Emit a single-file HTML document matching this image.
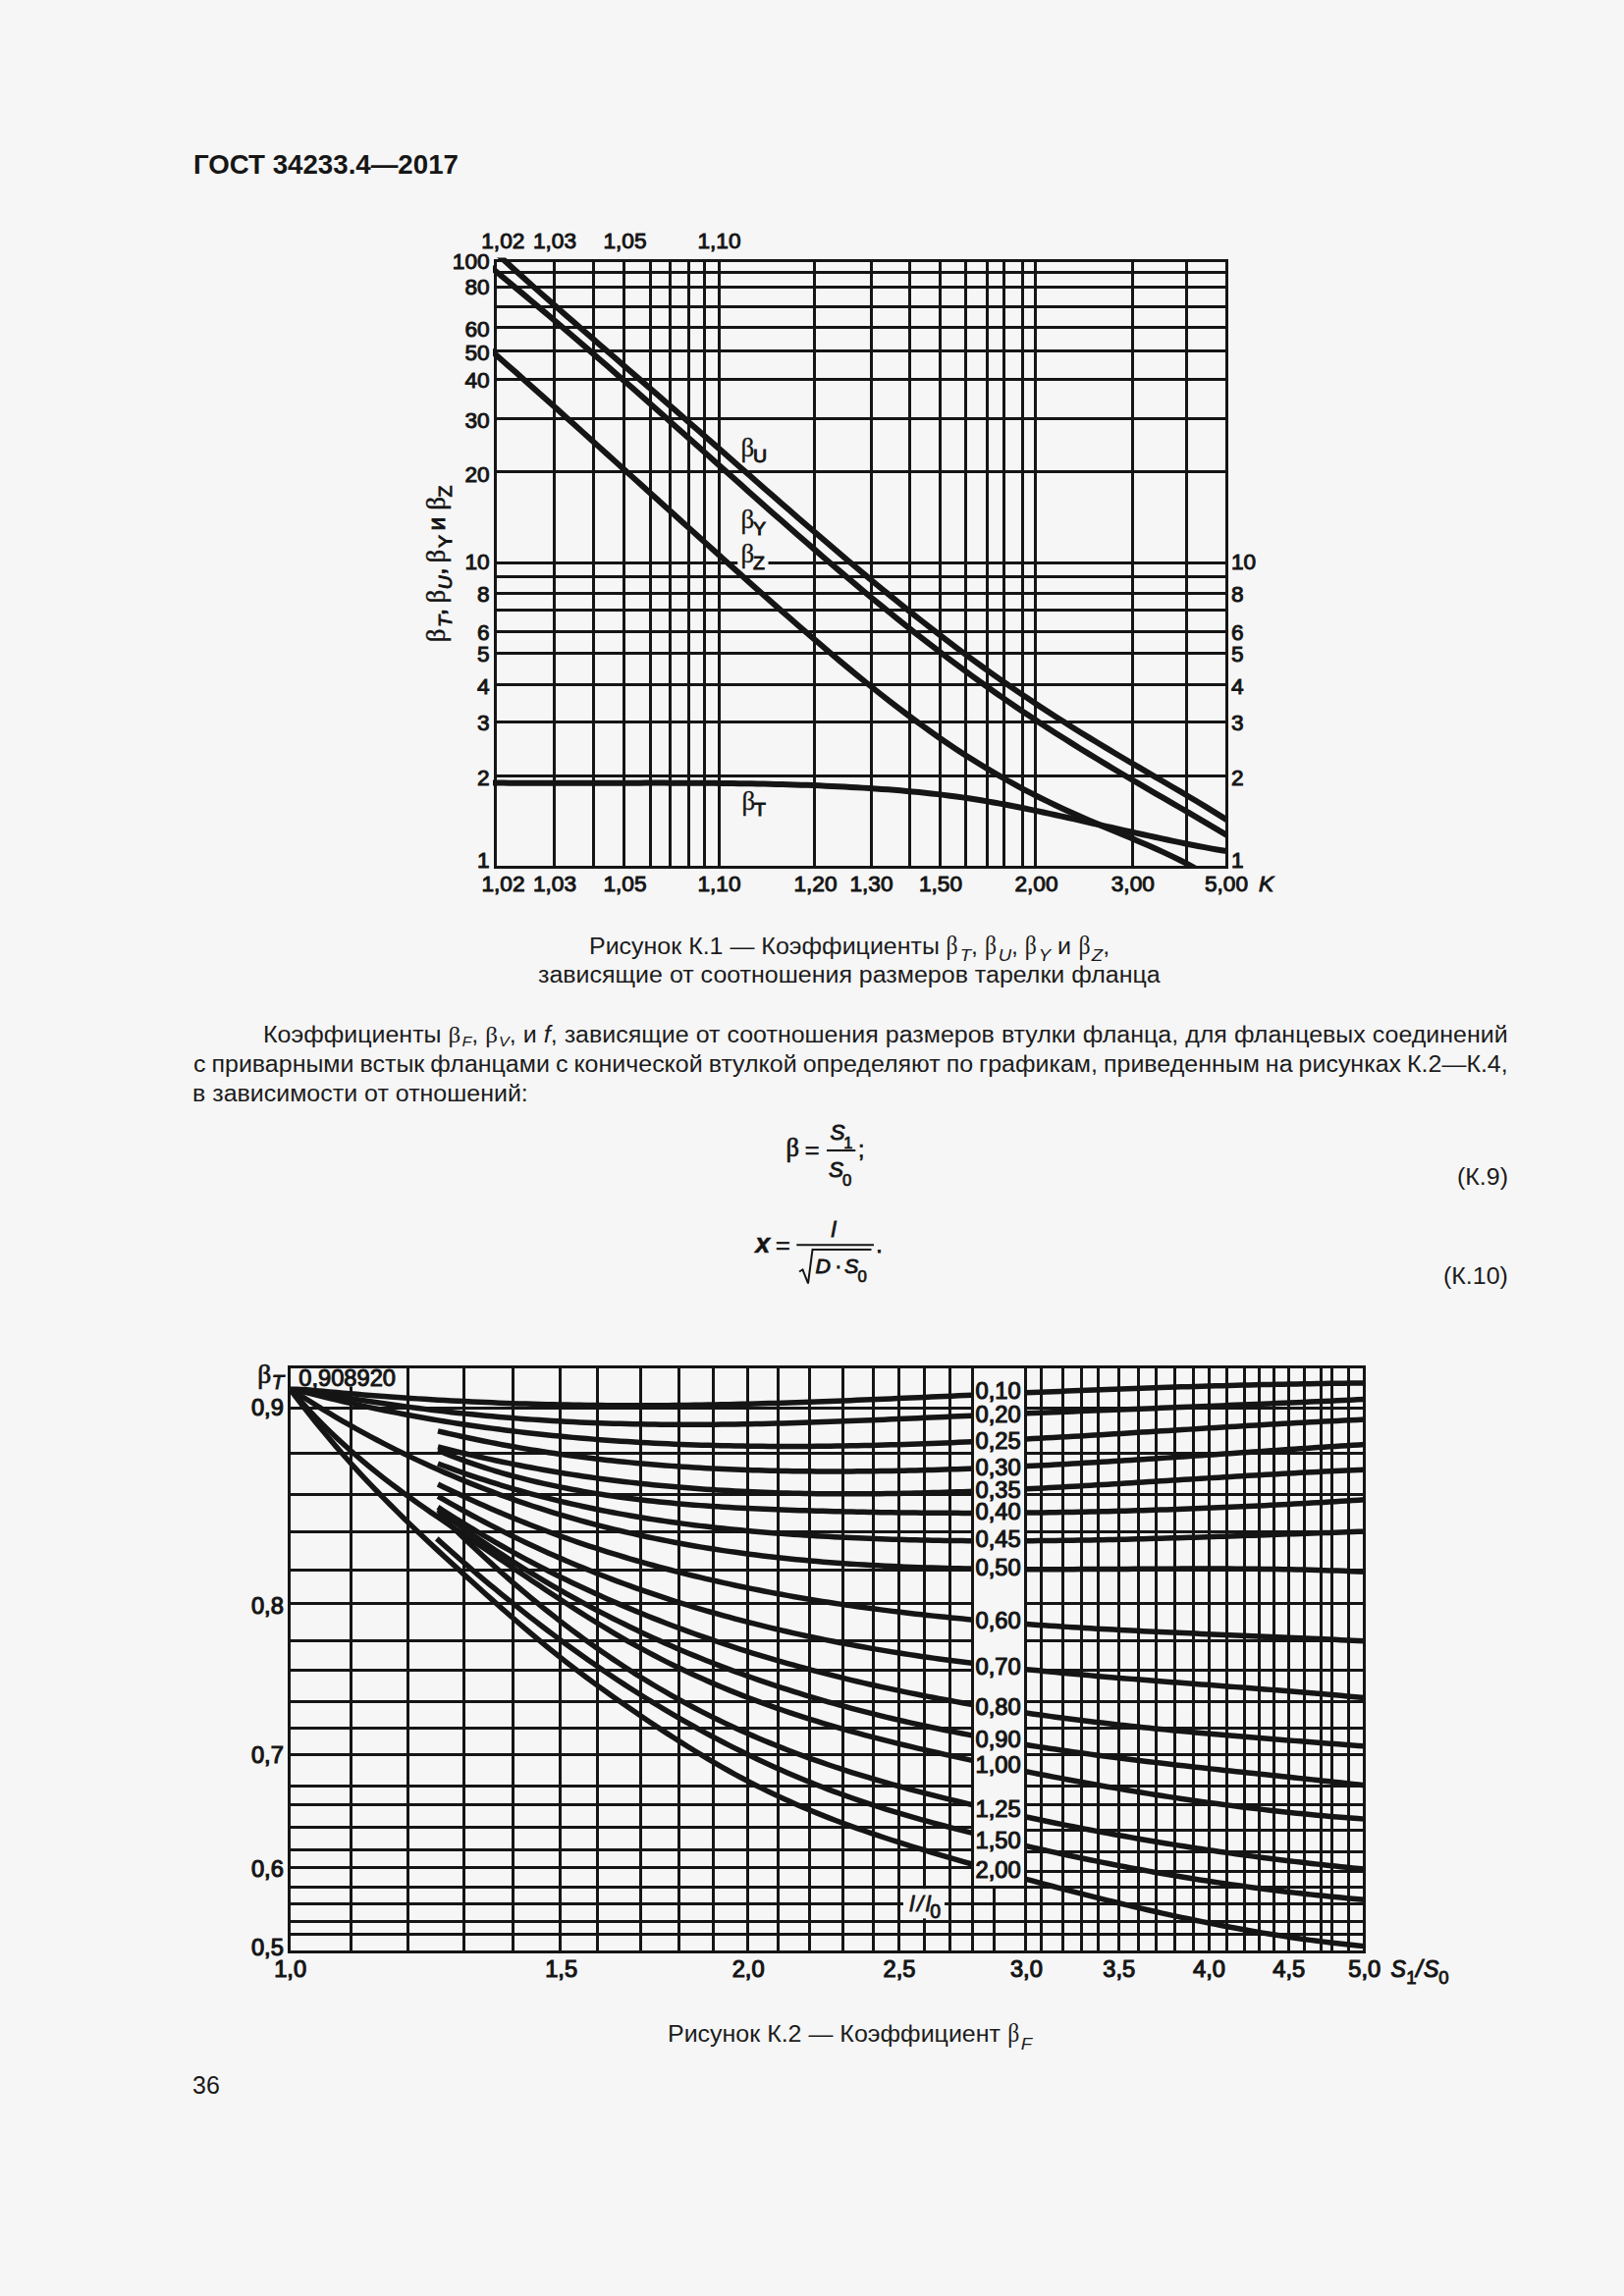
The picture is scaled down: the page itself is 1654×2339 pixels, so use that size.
<!DOCTYPE html>
<html lang="ru"><head><meta charset="utf-8"><title>ГОСТ 34233.4—2017</title>
<style>
html,body{margin:0;padding:0;background:#f6f6f6;}
body{width:1654px;height:2339px;position:relative;overflow:hidden;font-family:"Liberation Sans",sans-serif;color:#1b1b1b;}
.t{position:absolute;white-space:nowrap;line-height:30px;transform-origin:0 0;}
.b{font-family:"Liberation Serif",serif;line-height:0;}
sub{font-size:15px;font-style:italic;vertical-align:baseline;position:relative;top:4.2px;line-height:0;margin-left:1px;}
.b2{font-size:26.3px;display:inline-block;transform:scaleX(0.84);transform-origin:0 50%;}
sub.s2{font-size:17.3px;top:7.6px;margin-left:-0.5px;}
i{font-style:italic}
</style></head><body>
<svg width="1654" height="2339" viewBox="0 0 1654 2339" style="position:absolute;left:0;top:0">
<defs><clipPath id="c1"><rect x="502" y="262.5" width="749" height="622.5"/></clipPath>
<clipPath id="c2"><rect x="293" y="1391" width="1098" height="599"/></clipPath></defs>
<path d="M504.5 264V885M564.5 264V885M604.5 264V885M635.5 264V885M662.5 264V885M682.5 264V885M701.5 264V885M717.5 264V885M732.5 264V885M829.5 264V885M887.5 264V885M926.5 264V885M957.5 264V885M983.5 264V885M1005.5 264V885M1022.5 264V885M1041.5 264V885M1054.5 264V885M1153.5 264V885M1208.5 264V885M1249.5 264V885M503 265.5H1251M503 277.5H1251M503 292.5H1251M503 312.5H1251M503 333.5H1251M503 357.5H1251M503 386.5H1251M503 426.5H1251M503 480.5H1251M503 573.5H1251M503 587.5H1251M503 604.5H1251M503 621.5H1251M503 643.5H1251M503 665.5H1251M503 697.5H1251M503 735.5H1251M503 790.5H1251M503 883.5H1251" stroke="#151515" stroke-width="3.0" fill="none" shape-rendering="crispEdges"/>
<g clip-path="url(#c1)" fill="none" stroke="#151515" stroke-width="6.0" stroke-linecap="butt" stroke-linejoin="round">
<path d="M500 252.64 L508.46 260.49 L516.92 268.25 L525.38 275.94 L533.84 283.56 L542.3 291.12 L550.76 298.63 L559.22 306.11 L567.69 313.54 L576.15 320.95 L584.61 328.34 L593.07 335.7 L601.53 343.06 L609.99 350.41 L618.45 357.75 L626.91 365.09 L635.37 372.43 L643.83 379.78 L652.29 387.13 L660.75 394.49 L669.21 401.85 L677.67 409.22 L686.13 416.6 L694.6 423.99 L703.06 431.39 L711.52 438.8 L719.98 446.21 L728.44 453.63 L736.9 461.05 L745.36 468.48 L753.82 475.9 L762.28 483.32 L770.74 490.74 L779.2 498.15 L787.66 505.55 L796.12 512.93 L804.58 520.31 L813.04 527.66 L821.51 534.99 L829.97 542.3 L838.43 549.57 L846.89 556.82 L855.35 564.03 L863.81 571.2 L872.27 578.33 L880.73 585.42 L889.19 592.45 L897.65 599.44 L906.11 606.37 L914.57 613.24 L923.03 620.06 L931.49 626.8 L939.96 633.49 L948.42 640.1 L956.88 646.65 L965.34 653.12 L973.8 659.52 L982.26 665.84 L990.72 672.08 L999.18 678.25 L1007.64 684.33 L1016.1 690.34 L1024.56 696.27 L1033.02 702.11 L1041.48 707.88 L1049.94 713.57 L1058.4 719.19 L1066.87 724.73 L1075.33 730.19 L1083.79 735.59 L1092.25 740.92 L1100.71 746.18 L1109.17 751.39 L1117.63 756.54 L1126.09 761.64 L1134.55 766.7 L1143.01 771.72 L1151.47 776.71 L1159.93 781.68 L1168.39 786.63 L1176.85 791.57 L1185.31 796.51 L1193.78 801.47 L1202.24 806.45 L1210.7 811.46 L1219.16 816.52 L1227.62 821.64 L1236.08 826.84 L1244.54 832.12 L1253 837.5"/>
<path d="M500 272.29 L508.46 279.28 L516.92 286.3 L525.38 293.35 L533.84 300.42 L542.3 307.53 L550.76 314.66 L559.22 321.83 L567.69 329.03 L576.15 336.25 L584.61 343.51 L593.07 350.8 L601.53 358.12 L609.99 365.47 L618.45 372.84 L626.91 380.24 L635.37 387.67 L643.83 395.12 L652.29 402.59 L660.75 410.08 L669.21 417.59 L677.67 425.11 L686.13 432.65 L694.6 440.19 L703.06 447.75 L711.52 455.31 L719.98 462.88 L728.44 470.44 L736.9 478 L745.36 485.56 L753.82 493.1 L762.28 500.64 L770.74 508.16 L779.2 515.66 L787.66 523.15 L796.12 530.6 L804.58 538.03 L813.04 545.44 L821.51 552.8 L829.97 560.14 L838.43 567.43 L846.89 574.68 L855.35 581.89 L863.81 589.04 L872.27 596.15 L880.73 603.21 L889.19 610.21 L897.65 617.15 L906.11 624.03 L914.57 630.85 L923.03 637.61 L931.49 644.3 L939.96 650.92 L948.42 657.47 L956.88 663.95 L965.34 670.36 L973.8 676.7 L982.26 682.96 L990.72 689.15 L999.18 695.26 L1007.64 701.29 L1016.1 707.26 L1024.56 713.14 L1033.02 718.95 L1041.48 724.69 L1049.94 730.36 L1058.4 735.95 L1066.87 741.48 L1075.33 746.94 L1083.79 752.33 L1092.25 757.66 L1100.71 762.93 L1109.17 768.14 L1117.63 773.3 L1126.09 778.41 L1134.55 783.48 L1143.01 788.5 L1151.47 793.49 L1159.93 798.45 L1168.39 803.39 L1176.85 808.31 L1185.31 813.21 L1193.78 818.12 L1202.24 823.02 L1210.7 827.94 L1219.16 832.88 L1227.62 837.84 L1236.08 842.85 L1244.54 847.9 L1253 853.01"/>
<path d="M500 356.96 L508.46 364.41 L516.92 371.88 L525.38 379.37 L533.84 386.89 L542.3 394.43 L550.76 401.98 L559.22 409.54 L567.69 417.11 L576.15 424.7 L584.61 432.29 L593.07 439.89 L601.53 447.5 L609.99 455.12 L618.45 462.74 L626.91 470.36 L635.37 478 L643.83 485.63 L652.29 493.27 L660.75 500.91 L669.21 508.55 L677.67 516.2 L686.13 523.84 L694.6 531.49 L703.06 539.13 L711.52 546.76 L719.98 554.39 L728.44 562.02 L736.9 569.63 L745.36 577.23 L753.82 584.82 L762.28 592.39 L770.74 599.93 L779.2 607.45 L787.66 614.95 L796.12 622.41 L804.58 629.83 L813.04 637.21 L821.51 644.55 L829.97 651.84 L838.43 659.07 L846.89 666.24 L855.35 673.35 L863.81 680.39 L872.27 687.35 L880.73 694.23 L889.19 701.03 L897.65 707.73 L906.11 714.34 L914.57 720.85 L923.03 727.24 L931.49 733.53 L939.96 739.7 L948.42 745.75 L956.88 751.68 L965.34 757.48 L973.8 763.14 L982.26 768.67 L990.72 774.07 L999.18 779.32 L1007.64 784.44 L1016.1 789.42 L1024.56 794.26 L1033.02 798.96 L1041.48 803.52 L1049.94 807.95 L1058.4 812.25 L1066.87 816.43 L1075.33 820.49 L1083.79 824.45 L1092.25 828.3 L1100.71 832.06 L1109.17 835.75 L1117.63 839.38 L1126.09 842.95 L1134.55 846.5 L1143.01 850.04 L1151.47 853.58 L1159.93 857.16 L1168.39 860.8 L1176.85 864.53 L1185.31 868.37 L1193.78 872.37 L1202.24 876.55 L1210.7 880.95 L1219.16 885.62 L1227.62 890.6 L1236.08 895.94 L1244.54 901.68 L1253 907.89"/>
<path d="M500 797.48 L506.32 797.54 L512.64 797.59 L518.96 797.64 L525.28 797.68 L531.6 797.71 L537.92 797.74 L544.24 797.76 L550.55 797.77 L556.87 797.78 L563.19 797.79 L569.51 797.79 L575.83 797.78 L582.15 797.78 L588.47 797.77 L594.79 797.75 L601.11 797.74 L607.43 797.73 L613.75 797.71 L620.07 797.7 L626.39 797.68 L632.71 797.67 L639.03 797.65 L645.34 797.64 L651.66 797.63 L657.98 797.62 L664.3 797.62 L670.62 797.62 L676.94 797.62 L683.26 797.63 L689.58 797.64 L695.9 797.66 L702.22 797.68 L708.54 797.71 L714.86 797.74 L721.18 797.79 L727.5 797.84 L733.82 797.9 L740.13 797.97 L746.45 798.05 L752.77 798.13 L759.09 798.23 L765.41 798.34 L771.73 798.46 L778.05 798.59 L784.37 798.73 L790.69 798.88 L797.01 799.05 L803.33 799.23 L809.65 799.43 L815.97 799.64 L822.29 799.86 L828.61 800.1 L834.92 800.36 L841.24 800.63 L847.56 800.92 L853.88 801.23 L860.2 801.55 L866.52 801.89 L872.84 802.25 L879.16 802.63 L885.48 803.03 L891.8 803.45 L898.12 803.89 L904.44 804.35 L910.76 804.84 L917.08 805.36 L923.39 805.9 L929.71 806.48 L936.03 807.09 L942.35 807.73 L948.67 808.41 L954.99 809.12 L961.31 809.88 L967.63 810.67 L973.95 811.51 L980.27 812.4 L986.59 813.33 L992.91 814.3 L999.23 815.32 L1005.55 816.39 L1011.87 817.49 L1018.18 818.63 L1024.5 819.81 L1030.82 821.02 L1037.14 822.25 L1043.46 823.52 L1049.78 824.82 L1056.1 826.13 L1062.42 827.47 L1068.74 828.83 L1075.06 830.21 L1081.38 831.6 L1087.7 833 L1094.02 834.42 L1100.34 835.84 L1106.66 837.27 L1112.97 838.7 L1119.29 840.13 L1125.61 841.56 L1131.93 842.99 L1138.25 844.42 L1144.57 845.83 L1150.89 847.25 L1157.21 848.65 L1163.53 850.05 L1169.85 851.43 L1176.17 852.8 L1182.49 854.16 L1188.81 855.51 L1195.13 856.84 L1201.45 858.15 L1207.76 859.44 L1214.08 860.72 L1220.4 861.97 L1226.72 863.17 L1233.04 864.33 L1239.36 865.42 L1245.68 866.44 L1252 867.38"/>
</g>
<text transform="translate(512.3 253.4) scale(1.03 1)" font-family='"Liberation Sans", sans-serif' font-size="22.0" text-anchor="middle" fill="#151515" stroke="#151515" stroke-width="0.95"  >1,02</text>
<text transform="translate(565 253.4) scale(1.03 1)" font-family='"Liberation Sans", sans-serif' font-size="22.0" text-anchor="middle" fill="#151515" stroke="#151515" stroke-width="0.95"  >1,03</text>
<text transform="translate(636.5 253.4) scale(1.03 1)" font-family='"Liberation Sans", sans-serif' font-size="22.0" text-anchor="middle" fill="#151515" stroke="#151515" stroke-width="0.95"  >1,05</text>
<text transform="translate(732.5 253.4) scale(1.03 1)" font-family='"Liberation Sans", sans-serif' font-size="22.0" text-anchor="middle" fill="#151515" stroke="#151515" stroke-width="0.95"  >1,10</text>
<text transform="translate(512.5 908.3) scale(1.03 1)" font-family='"Liberation Sans", sans-serif' font-size="22.0" text-anchor="middle" fill="#151515" stroke="#151515" stroke-width="0.95"  >1,02</text>
<text transform="translate(565 908.3) scale(1.03 1)" font-family='"Liberation Sans", sans-serif' font-size="22.0" text-anchor="middle" fill="#151515" stroke="#151515" stroke-width="0.95"  >1,03</text>
<text transform="translate(636.5 908.3) scale(1.03 1)" font-family='"Liberation Sans", sans-serif' font-size="22.0" text-anchor="middle" fill="#151515" stroke="#151515" stroke-width="0.95"  >1,05</text>
<text transform="translate(732.5 908.3) scale(1.03 1)" font-family='"Liberation Sans", sans-serif' font-size="22.0" text-anchor="middle" fill="#151515" stroke="#151515" stroke-width="0.95"  >1,10</text>
<text transform="translate(830.5 908.3) scale(1.03 1)" font-family='"Liberation Sans", sans-serif' font-size="22.0" text-anchor="middle" fill="#151515" stroke="#151515" stroke-width="0.95"  >1,20</text>
<text transform="translate(887.5 908.3) scale(1.03 1)" font-family='"Liberation Sans", sans-serif' font-size="22.0" text-anchor="middle" fill="#151515" stroke="#151515" stroke-width="0.95"  >1,30</text>
<text transform="translate(958 908.3) scale(1.03 1)" font-family='"Liberation Sans", sans-serif' font-size="22.0" text-anchor="middle" fill="#151515" stroke="#151515" stroke-width="0.95"  >1,50</text>
<text transform="translate(1055.5 908.3) scale(1.03 1)" font-family='"Liberation Sans", sans-serif' font-size="22.0" text-anchor="middle" fill="#151515" stroke="#151515" stroke-width="0.95"  >2,00</text>
<text transform="translate(1153.8 908.3) scale(1.03 1)" font-family='"Liberation Sans", sans-serif' font-size="22.0" text-anchor="middle" fill="#151515" stroke="#151515" stroke-width="0.95"  >3,00</text>
<text transform="translate(1249 908.3) scale(1.03 1)" font-family='"Liberation Sans", sans-serif' font-size="22.0" text-anchor="middle" fill="#151515" stroke="#151515" stroke-width="0.95"  >5,00</text>
<text transform="translate(1282 908.3) scale(1.03 1)" font-family='"Liberation Sans", sans-serif' font-size="22.0" text-anchor="start" fill="#151515" stroke="#151515" stroke-width="0.95" font-style="italic" >K</text>
<text transform="translate(498.6 274.35) scale(1.03 1)" font-family='"Liberation Sans", sans-serif' font-size="22.0" text-anchor="end" fill="#151515" stroke="#151515" stroke-width="0.95"  >100</text>
<text transform="translate(498.6 300.2) scale(1.03 1)" font-family='"Liberation Sans", sans-serif' font-size="22.0" text-anchor="end" fill="#151515" stroke="#151515" stroke-width="0.95"  >80</text>
<text transform="translate(498.6 342.6) scale(1.03 1)" font-family='"Liberation Sans", sans-serif' font-size="22.0" text-anchor="end" fill="#151515" stroke="#151515" stroke-width="0.95"  >60</text>
<text transform="translate(498.6 367.2) scale(1.03 1)" font-family='"Liberation Sans", sans-serif' font-size="22.0" text-anchor="end" fill="#151515" stroke="#151515" stroke-width="0.95"  >50</text>
<text transform="translate(498.6 395.2) scale(1.03 1)" font-family='"Liberation Sans", sans-serif' font-size="22.0" text-anchor="end" fill="#151515" stroke="#151515" stroke-width="0.95"  >40</text>
<text transform="translate(498.6 435.6) scale(1.03 1)" font-family='"Liberation Sans", sans-serif' font-size="22.0" text-anchor="end" fill="#151515" stroke="#151515" stroke-width="0.95"  >30</text>
<text transform="translate(498.6 490.6) scale(1.03 1)" font-family='"Liberation Sans", sans-serif' font-size="22.0" text-anchor="end" fill="#151515" stroke="#151515" stroke-width="0.95"  >20</text>
<text transform="translate(498.6 580.2) scale(1.03 1)" font-family='"Liberation Sans", sans-serif' font-size="22.0" text-anchor="end" fill="#151515" stroke="#151515" stroke-width="0.95"  >10</text>
<text transform="translate(498.6 612.7) scale(1.03 1)" font-family='"Liberation Sans", sans-serif' font-size="22.0" text-anchor="end" fill="#151515" stroke="#151515" stroke-width="0.95"  >8</text>
<text transform="translate(498.6 652.35) scale(1.03 1)" font-family='"Liberation Sans", sans-serif' font-size="22.0" text-anchor="end" fill="#151515" stroke="#151515" stroke-width="0.95"  >6</text>
<text transform="translate(498.6 674.35) scale(1.03 1)" font-family='"Liberation Sans", sans-serif' font-size="22.0" text-anchor="end" fill="#151515" stroke="#151515" stroke-width="0.95"  >5</text>
<text transform="translate(498.6 707.35) scale(1.03 1)" font-family='"Liberation Sans", sans-serif' font-size="22.0" text-anchor="end" fill="#151515" stroke="#151515" stroke-width="0.95"  >4</text>
<text transform="translate(498.6 743.5) scale(1.03 1)" font-family='"Liberation Sans", sans-serif' font-size="22.0" text-anchor="end" fill="#151515" stroke="#151515" stroke-width="0.95"  >3</text>
<text transform="translate(498.6 799.6) scale(1.03 1)" font-family='"Liberation Sans", sans-serif' font-size="22.0" text-anchor="end" fill="#151515" stroke="#151515" stroke-width="0.95"  >2</text>
<text transform="translate(498.6 883.9) scale(1.03 1)" font-family='"Liberation Sans", sans-serif' font-size="22.0" text-anchor="end" fill="#151515" stroke="#151515" stroke-width="0.95"  >1</text>
<text transform="translate(1254 580.2) scale(1.03 1)" font-family='"Liberation Sans", sans-serif' font-size="22.0" text-anchor="start" fill="#151515" stroke="#151515" stroke-width="0.95"  >10</text>
<text transform="translate(1254 612.7) scale(1.03 1)" font-family='"Liberation Sans", sans-serif' font-size="22.0" text-anchor="start" fill="#151515" stroke="#151515" stroke-width="0.95"  >8</text>
<text transform="translate(1254 652.35) scale(1.03 1)" font-family='"Liberation Sans", sans-serif' font-size="22.0" text-anchor="start" fill="#151515" stroke="#151515" stroke-width="0.95"  >6</text>
<text transform="translate(1254 674.35) scale(1.03 1)" font-family='"Liberation Sans", sans-serif' font-size="22.0" text-anchor="start" fill="#151515" stroke="#151515" stroke-width="0.95"  >5</text>
<text transform="translate(1254 707.35) scale(1.03 1)" font-family='"Liberation Sans", sans-serif' font-size="22.0" text-anchor="start" fill="#151515" stroke="#151515" stroke-width="0.95"  >4</text>
<text transform="translate(1254 743.5) scale(1.03 1)" font-family='"Liberation Sans", sans-serif' font-size="22.0" text-anchor="start" fill="#151515" stroke="#151515" stroke-width="0.95"  >3</text>
<text transform="translate(1254 799.6) scale(1.03 1)" font-family='"Liberation Sans", sans-serif' font-size="22.0" text-anchor="start" fill="#151515" stroke="#151515" stroke-width="0.95"  >2</text>
<text transform="translate(1254 883.9) scale(1.03 1)" font-family='"Liberation Sans", sans-serif' font-size="22.0" text-anchor="start" fill="#151515" stroke="#151515" stroke-width="0.95"  >1</text>
<text x="754.5" y="464.5" font-family='"Liberation Serif", serif' font-size="27" text-anchor="start" fill="#151515" stroke="#151515" stroke-width="0.3"  >β</text>
<text transform="translate(767 471.2) scale(1.03 1)" font-family='"Liberation Sans", sans-serif' font-size="19" text-anchor="start" fill="#151515" stroke="#151515" stroke-width="0.95"  >U</text>
<text x="754.5" y="538" font-family='"Liberation Serif", serif' font-size="27" text-anchor="start" fill="#151515" stroke="#151515" stroke-width="0.3"  >β</text>
<text transform="translate(767 544.7) scale(1.03 1)" font-family='"Liberation Sans", sans-serif' font-size="19" text-anchor="start" fill="#151515" stroke="#151515" stroke-width="0.95"  >Y</text>
<rect x="751.25" y="570" width="31.25" height="7" fill="#f6f6f6"/>
<text x="754.5" y="573" font-family='"Liberation Serif", serif' font-size="27" text-anchor="start" fill="#151515" stroke="#151515" stroke-width="0.3"  >β</text>
<text transform="translate(767 579.7) scale(1.03 1)" font-family='"Liberation Sans", sans-serif' font-size="19" text-anchor="start" fill="#151515" stroke="#151515" stroke-width="0.95"  >Z</text>
<text x="755.5" y="824.5" font-family='"Liberation Serif", serif' font-size="27" text-anchor="start" fill="#151515" stroke="#151515" stroke-width="0.3"  >β</text>
<text transform="translate(768 831.2) scale(1.03 1)" font-family='"Liberation Sans", sans-serif' font-size="19" text-anchor="start" fill="#151515" stroke="#151515" stroke-width="0.95"  >T</text>
<g transform="translate(452.5 653.4) rotate(-90)">
<text x="-0.8" y="0" font-family='"Liberation Serif", serif' font-size="27" fill="#151515" stroke="#151515" stroke-width="0.5">β</text>
<text transform="translate(14.5 7.5) scale(1.03 1)" font-family='"Liberation Sans", sans-serif' font-size="19" font-style="italic" fill="#151515" stroke="#151515" stroke-width="0.95">T</text>
<text transform="translate(26.5 0) scale(1.03 1)" font-family='"Liberation Sans", sans-serif' font-size="24" fill="#151515" stroke="#151515" stroke-width="0.95">,</text>
<text x="38.8" y="0" font-family='"Liberation Serif", serif' font-size="27" fill="#151515" stroke="#151515" stroke-width="0.5">β</text>
<text transform="translate(53 7.5) scale(1.03 1)" font-family='"Liberation Sans", sans-serif' font-size="19" font-style="italic" fill="#151515" stroke="#151515" stroke-width="0.95">U</text>
<text transform="translate(68 0) scale(1.03 1)" font-family='"Liberation Sans", sans-serif' font-size="24" fill="#151515" stroke="#151515" stroke-width="0.95">,</text>
<text x="79.9" y="0" font-family='"Liberation Serif", serif' font-size="27" fill="#151515" stroke="#151515" stroke-width="0.5">β</text>
<text transform="translate(95.5 7.5) scale(1.03 1)" font-family='"Liberation Sans", sans-serif' font-size="19" fill="#151515" stroke="#151515" stroke-width="0.95">Y</text>
<text transform="translate(113 0) scale(1.03 1)" font-family='"Liberation Sans", sans-serif' font-size="24" fill="#151515" stroke="#151515" stroke-width="0.95">и</text>
<text x="133.7" y="0" font-family='"Liberation Serif", serif' font-size="27" fill="#151515" stroke="#151515" stroke-width="0.5">β</text>
<text transform="translate(147 7.5) scale(1.03 1)" font-family='"Liberation Sans", sans-serif' font-size="19" fill="#151515" stroke="#151515" stroke-width="0.95">Z</text>
</g>
<path d="M294.5 1391V1990M357.5 1391V1990M415.5 1391V1990M472.5 1391V1990M522.5 1391V1990M570.5 1391V1990M608.5 1391V1990M652.5 1391V1990M691.5 1391V1990M726.5 1391V1990M761.5 1391V1990M792.5 1391V1990M824.5 1391V1990M858.5 1391V1990M889.5 1391V1990M915.5 1391V1990M941.5 1391V1990M967.5 1391V1990M990.5 1391V1990M1012.5 1391V1990M1044.5 1391V1990M1060.5 1391V1990M1082.5 1391V1990M1101.5 1391V1990M1118.5 1391V1990M1139.5 1391V1990M1159.5 1391V1990M1177.5 1391V1990M1196.5 1391V1990M1215.5 1391V1990M1231.5 1391V1990M1249.5 1391V1990M1267.5 1391V1990M1282.5 1391V1990M1297.5 1391V1990M1312.5 1391V1990M1328.5 1391V1990M1345.5 1391V1990M1356.5 1391V1990M1373.5 1391V1990M1389.5 1391V1990M293 1392.5H1391M293 1434.5H1391M293 1480.5H1391M293 1522.5H1391M293 1560.5H1391M293 1599.5H1391M293 1633.5H1391M293 1671.5H1391M293 1701.5H1391M293 1733.5H1391M293 1760.5H1391M293 1787.5H1391M293 1819.5H1391M293 1838.5H1391M293 1861.5H990.5M1044.5 1864.5H1391M293 1884.5H990.5M1044.5 1886.5H1391M293 1902.5H990.5M1044.5 1906.5H1391M293 1922.5H1391M293 1939.5H1391M293 1957.5H1391M293 1970.5H1391M293 1988.5H1391" stroke="#151515" stroke-width="3.0" fill="none" shape-rendering="crispEdges"/>
<g clip-path="url(#c2)" fill="none" stroke="#151515" stroke-width="5.5" stroke-linejoin="round">
<path d="M294.5 1414 L301.39 1414.69 L308.27 1415.38 L315.16 1416.05 L322.05 1416.71 L328.93 1417.35 L335.82 1417.98 L342.71 1418.59 L349.59 1419.19 L356.48 1419.78 L363.37 1420.36 L370.25 1420.91 L377.14 1421.46 L384.03 1421.99 L390.92 1422.51 L397.8 1423.01 L404.69 1423.5 L411.58 1423.98 L418.46 1424.44 L425.35 1424.88 L432.24 1425.32 L439.12 1425.73 L446.01 1426.14 L452.9 1426.53 L459.78 1426.91 L466.67 1427.27 L473.56 1427.61 L480.44 1427.95 L487.33 1428.27 L494.22 1428.57 L501.1 1428.86 L507.99 1429.14 L514.88 1429.4 L521.76 1429.65 L528.65 1429.88 L535.54 1430.1 L542.42 1430.3 L549.31 1430.49 L556.2 1430.67 L563.08 1430.83 L569.97 1430.98 L576.86 1431.12 L583.75 1431.24 L590.63 1431.35 L597.52 1431.45 L604.41 1431.53 L611.29 1431.6 L618.18 1431.66 L625.07 1431.7 L631.95 1431.74 L638.84 1431.76 L645.73 1431.76 L652.61 1431.76 L659.5 1431.74 L666.39 1431.72 L673.27 1431.68 L680.16 1431.63 L687.05 1431.57 L693.93 1431.49 L700.82 1431.41 L707.71 1431.31 L714.59 1431.21 L721.48 1431.09 L728.37 1430.96 L735.25 1430.83 L742.14 1430.68 L749.03 1430.52 L755.92 1430.36 L762.8 1430.18 L769.69 1429.99 L776.58 1429.8 L783.46 1429.6 L790.35 1429.39 L797.24 1429.17 L804.12 1428.95 L811.01 1428.72 L817.9 1428.48 L824.78 1428.23 L831.67 1427.98 L838.56 1427.72 L845.44 1427.46 L852.33 1427.19 L859.22 1426.92 L866.1 1426.65 L872.99 1426.36 L879.88 1426.08 L886.76 1425.79 L893.65 1425.5 L900.54 1425.2 L907.42 1424.91 L914.31 1424.61 L921.2 1424.3 L928.08 1424 L934.97 1423.69 L941.86 1423.39 L948.75 1423.08 L955.63 1422.77 L962.52 1422.46 L969.41 1422.15 L976.29 1421.85 L983.18 1421.54 L990.07 1421.23 L996.95 1420.93 L1003.84 1420.62 L1010.73 1420.32 L1017.61 1420.02 L1024.5 1419.72 L1031.39 1419.42 L1038.27 1419.13 L1045.16 1418.84 L1052.05 1418.54 L1058.93 1418.26 L1065.82 1417.97 L1072.71 1417.68 L1079.59 1417.4 L1086.48 1417.12 L1093.37 1416.85 L1100.25 1416.57 L1107.14 1416.3 L1114.03 1416.03 L1120.92 1415.77 L1127.8 1415.51 L1134.69 1415.25 L1141.58 1414.99 L1148.46 1414.74 L1155.35 1414.49 L1162.24 1414.25 L1169.12 1414.01 L1176.01 1413.77 L1182.9 1413.54 L1189.78 1413.31 L1196.67 1413.09 L1203.56 1412.87 L1210.44 1412.65 L1217.33 1412.44 L1224.22 1412.23 L1231.1 1412.03 L1237.99 1411.83 L1244.88 1411.64 L1251.76 1411.46 L1258.65 1411.27 L1265.54 1411.1 L1272.42 1410.92 L1279.31 1410.76 L1286.2 1410.6 L1293.08 1410.44 L1299.97 1410.29 L1306.86 1410.15 L1313.75 1410.01 L1320.63 1409.88 L1327.52 1409.75 L1334.41 1409.63 L1341.29 1409.52 L1348.18 1409.41 L1355.07 1409.31 L1361.95 1409.21 L1368.84 1409.13 L1375.73 1409.04 L1382.61 1408.97 L1389.5 1408.9"/>
<path d="M294.5 1414 L301.39 1415.25 L308.27 1416.49 L315.16 1417.71 L322.05 1418.91 L328.93 1420.09 L335.82 1421.25 L342.71 1422.39 L349.59 1423.51 L356.48 1424.62 L363.37 1425.7 L370.25 1426.77 L377.14 1427.81 L384.03 1428.83 L390.92 1429.83 L397.8 1430.81 L404.69 1431.77 L411.58 1432.71 L418.46 1433.62 L425.35 1434.52 L432.24 1435.39 L439.12 1436.24 L446.01 1437.07 L452.9 1437.87 L459.78 1438.65 L466.67 1439.41 L473.56 1440.14 L480.44 1440.85 L487.33 1441.54 L494.22 1442.2 L501.1 1442.83 L507.99 1443.45 L514.88 1444.03 L521.76 1444.6 L528.65 1445.13 L535.54 1445.65 L542.42 1446.13 L549.31 1446.6 L556.2 1447.04 L563.08 1447.45 L569.97 1447.84 L576.86 1448.21 L583.75 1448.56 L590.63 1448.88 L597.52 1449.18 L604.41 1449.46 L611.29 1449.72 L618.18 1449.96 L625.07 1450.18 L631.95 1450.37 L638.84 1450.55 L645.73 1450.71 L652.61 1450.85 L659.5 1450.96 L666.39 1451.06 L673.27 1451.15 L680.16 1451.21 L687.05 1451.26 L693.93 1451.29 L700.82 1451.3 L707.71 1451.29 L714.59 1451.27 L721.48 1451.24 L728.37 1451.18 L735.25 1451.12 L742.14 1451.03 L749.03 1450.94 L755.92 1450.83 L762.8 1450.7 L769.69 1450.57 L776.58 1450.42 L783.46 1450.26 L790.35 1450.08 L797.24 1449.9 L804.12 1449.71 L811.01 1449.5 L817.9 1449.29 L824.78 1449.06 L831.67 1448.83 L838.56 1448.59 L845.44 1448.35 L852.33 1448.09 L859.22 1447.83 L866.1 1447.56 L872.99 1447.29 L879.88 1447.01 L886.76 1446.72 L893.65 1446.43 L900.54 1446.14 L907.42 1445.85 L914.31 1445.55 L921.2 1445.24 L928.08 1444.94 L934.97 1444.63 L941.86 1444.33 L948.75 1444.02 L955.63 1443.71 L962.52 1443.4 L969.41 1443.1 L976.29 1442.79 L983.18 1442.49 L990.07 1442.18 L996.95 1441.88 L1003.84 1441.59 L1010.73 1441.29 L1017.61 1441 L1024.5 1440.71 L1031.39 1440.42 L1038.27 1440.13 L1045.16 1439.85 L1052.05 1439.56 L1058.93 1439.28 L1065.82 1439 L1072.71 1438.72 L1079.59 1438.44 L1086.48 1438.17 L1093.37 1437.89 L1100.25 1437.62 L1107.14 1437.34 L1114.03 1437.07 L1120.92 1436.8 L1127.8 1436.53 L1134.69 1436.26 L1141.58 1435.99 L1148.46 1435.71 L1155.35 1435.44 L1162.24 1435.17 L1169.12 1434.9 L1176.01 1434.63 L1182.9 1434.36 L1189.78 1434.09 L1196.67 1433.82 L1203.56 1433.54 L1210.44 1433.27 L1217.33 1432.99 L1224.22 1432.72 L1231.1 1432.44 L1237.99 1432.16 L1244.88 1431.88 L1251.76 1431.6 L1258.65 1431.32 L1265.54 1431.04 L1272.42 1430.75 L1279.31 1430.46 L1286.2 1430.17 L1293.08 1429.88 L1299.97 1429.59 L1306.86 1429.29 L1313.75 1428.99 L1320.63 1428.69 L1327.52 1428.39 L1334.41 1428.08 L1341.29 1427.77 L1348.18 1427.46 L1355.07 1427.15 L1361.95 1426.83 L1368.84 1426.51 L1375.73 1426.18 L1382.61 1425.85 L1389.5 1425.52"/>
<path d="M294.5 1414 L301.39 1415.84 L308.27 1417.65 L315.16 1419.42 L322.05 1421.15 L328.93 1422.86 L335.82 1424.53 L342.71 1426.16 L349.59 1427.77 L356.48 1429.33 L363.37 1430.87 L370.25 1432.38 L377.14 1433.85 L384.03 1435.29 L390.92 1436.7 L397.8 1438.07 L404.69 1439.42 L411.58 1440.73 L418.46 1442.02 L425.35 1443.27 L432.24 1444.5 L439.12 1445.69 L446.01 1446.86 L452.9 1447.99 L459.78 1449.1 L466.67 1450.18 L473.56 1451.23 L480.44 1452.25 L487.33 1453.24 L494.22 1454.21 L501.1 1455.14 L507.99 1456.06 L514.88 1456.94 L521.76 1457.8 L528.65 1458.63 L535.54 1459.44 L542.42 1460.22 L549.31 1460.97 L556.2 1461.7 L563.08 1462.41 L569.97 1463.09 L576.86 1463.74 L583.75 1464.37 L590.63 1464.98 L597.52 1465.57 L604.41 1466.13 L611.29 1466.66 L618.18 1467.18 L625.07 1467.67 L631.95 1468.14 L638.84 1468.59 L645.73 1469.02 L652.61 1469.42 L659.5 1469.81 L666.39 1470.17 L673.27 1470.51 L680.16 1470.84 L687.05 1471.14 L693.93 1471.42 L700.82 1471.69 L707.71 1471.93 L714.59 1472.16 L721.48 1472.36 L728.37 1472.55 L735.25 1472.72 L742.14 1472.87 L749.03 1473.01 L755.92 1473.12 L762.8 1473.22 L769.69 1473.31 L776.58 1473.37 L783.46 1473.43 L790.35 1473.46 L797.24 1473.48 L804.12 1473.48 L811.01 1473.47 L817.9 1473.44 L824.78 1473.4 L831.67 1473.35 L838.56 1473.28 L845.44 1473.19 L852.33 1473.1 L859.22 1472.99 L866.1 1472.86 L872.99 1472.73 L879.88 1472.58 L886.76 1472.42 L893.65 1472.25 L900.54 1472.06 L907.42 1471.87 L914.31 1471.66 L921.2 1471.44 L928.08 1471.22 L934.97 1470.98 L941.86 1470.73 L948.75 1470.47 L955.63 1470.2 L962.52 1469.93 L969.41 1469.64 L976.29 1469.35 L983.18 1469.04 L990.07 1468.73 L996.95 1468.41 L1003.84 1468.09 L1010.73 1467.75 L1017.61 1467.41 L1024.5 1467.07 L1031.39 1466.71 L1038.27 1466.35 L1045.16 1465.99 L1052.05 1465.61 L1058.93 1465.24 L1065.82 1464.86 L1072.71 1464.47 L1079.59 1464.08 L1086.48 1463.68 L1093.37 1463.28 L1100.25 1462.88 L1107.14 1462.47 L1114.03 1462.06 L1120.92 1461.64 L1127.8 1461.23 L1134.69 1460.81 L1141.58 1460.39 L1148.46 1459.96 L1155.35 1459.54 L1162.24 1459.11 L1169.12 1458.69 L1176.01 1458.26 L1182.9 1457.83 L1189.78 1457.4 L1196.67 1456.97 L1203.56 1456.54 L1210.44 1456.12 L1217.33 1455.69 L1224.22 1455.26 L1231.1 1454.84 L1237.99 1454.42 L1244.88 1453.99 L1251.76 1453.58 L1258.65 1453.16 L1265.54 1452.74 L1272.42 1452.33 L1279.31 1451.93 L1286.2 1451.52 L1293.08 1451.12 L1299.97 1450.73 L1306.86 1450.33 L1313.75 1449.95 L1320.63 1449.56 L1327.52 1449.19 L1334.41 1448.81 L1341.29 1448.45 L1348.18 1448.09 L1355.07 1447.73 L1361.95 1447.39 L1368.84 1447.04 L1375.73 1446.71 L1382.61 1446.38 L1389.5 1446.07"/>
<path d="M446 1457.81 L451.93 1459.21 L457.87 1460.59 L463.8 1461.94 L469.74 1463.26 L475.67 1464.54 L481.6 1465.8 L487.54 1467.04 L493.47 1468.24 L499.41 1469.41 L505.34 1470.56 L511.27 1471.68 L517.21 1472.77 L523.14 1473.83 L529.08 1474.87 L535.01 1475.88 L540.94 1476.87 L546.88 1477.83 L552.81 1478.76 L558.75 1479.67 L564.68 1480.55 L570.61 1481.41 L576.55 1482.24 L582.48 1483.05 L588.42 1483.84 L594.35 1484.6 L600.28 1485.34 L606.22 1486.05 L612.15 1486.75 L618.08 1487.42 L624.02 1488.06 L629.95 1488.69 L635.89 1489.29 L641.82 1489.88 L647.75 1490.44 L653.69 1490.98 L659.62 1491.5 L665.56 1492 L671.49 1492.48 L677.42 1492.94 L683.36 1493.38 L689.29 1493.8 L695.23 1494.2 L701.16 1494.58 L707.09 1494.95 L713.03 1495.3 L718.96 1495.63 L724.9 1495.94 L730.83 1496.23 L736.76 1496.51 L742.7 1496.77 L748.63 1497.02 L754.57 1497.25 L760.5 1497.46 L766.43 1497.66 L772.37 1497.84 L778.3 1498.01 L784.24 1498.16 L790.17 1498.3 L796.1 1498.42 L802.04 1498.53 L807.97 1498.63 L813.91 1498.71 L819.84 1498.78 L825.77 1498.84 L831.71 1498.88 L837.64 1498.91 L843.58 1498.93 L849.51 1498.94 L855.44 1498.94 L861.38 1498.92 L867.31 1498.9 L873.25 1498.86 L879.18 1498.81 L885.11 1498.75 L891.05 1498.68 L896.98 1498.6 L902.92 1498.51 L908.85 1498.4 L914.78 1498.29 L920.72 1498.17 L926.65 1498.04 L932.58 1497.9 L938.52 1497.74 L944.45 1497.58 L950.39 1497.42 L956.32 1497.24 L962.25 1497.05 L968.19 1496.85 L974.12 1496.65 L980.06 1496.44 L985.99 1496.22 L991.92 1495.99 L997.86 1495.75 L1003.79 1495.51 L1009.73 1495.26 L1015.66 1495 L1021.59 1494.74 L1027.53 1494.46 L1033.46 1494.18 L1039.4 1493.9 L1045.33 1493.61 L1051.26 1493.31 L1057.2 1493 L1063.13 1492.69 L1069.07 1492.38 L1075 1492.06 L1080.93 1491.73 L1086.87 1491.4 L1092.8 1491.06 L1098.74 1490.72 L1104.67 1490.37 L1110.6 1490.02 L1116.54 1489.67 L1122.47 1489.31 L1128.41 1488.94 L1134.34 1488.58 L1140.27 1488.2 L1146.21 1487.83 L1152.14 1487.45 L1158.08 1487.07 L1164.01 1486.69 L1169.94 1486.3 L1175.88 1485.91 L1181.81 1485.52 L1187.75 1485.12 L1193.68 1484.73 L1199.61 1484.33 L1205.55 1483.93 L1211.48 1483.52 L1217.42 1483.12 L1223.35 1482.72 L1229.28 1482.31 L1235.22 1481.9 L1241.15 1481.49 L1247.08 1481.09 L1253.02 1480.68 L1258.95 1480.27 L1264.89 1479.86 L1270.82 1479.45 L1276.75 1479.04 L1282.69 1478.63 L1288.62 1478.22 L1294.56 1477.81 L1300.49 1477.41 L1306.42 1477 L1312.36 1476.6 L1318.29 1476.19 L1324.23 1475.79 L1330.16 1475.39 L1336.09 1474.99 L1342.03 1474.6 L1347.96 1474.2 L1353.9 1473.81 L1359.83 1473.43 L1365.76 1473.04 L1371.7 1472.66 L1377.63 1472.28 L1383.57 1471.9 L1389.5 1471.53"/>
<path d="M446 1473.81 L451.93 1475.35 L457.87 1476.87 L463.8 1478.36 L469.74 1479.82 L475.67 1481.24 L481.6 1482.64 L487.54 1484.01 L493.47 1485.35 L499.41 1486.66 L505.34 1487.94 L511.27 1489.19 L517.21 1490.42 L523.14 1491.62 L529.08 1492.79 L535.01 1493.93 L540.94 1495.05 L546.88 1496.13 L552.81 1497.2 L558.75 1498.23 L564.68 1499.24 L570.61 1500.23 L576.55 1501.19 L582.48 1502.12 L588.42 1503.03 L594.35 1503.91 L600.28 1504.77 L606.22 1505.6 L612.15 1506.41 L618.08 1507.2 L624.02 1507.96 L629.95 1508.7 L635.89 1509.42 L641.82 1510.11 L647.75 1510.78 L653.69 1511.43 L659.62 1512.05 L665.56 1512.66 L671.49 1513.24 L677.42 1513.8 L683.36 1514.34 L689.29 1514.86 L695.23 1515.36 L701.16 1515.83 L707.09 1516.29 L713.03 1516.73 L718.96 1517.14 L724.9 1517.54 L730.83 1517.92 L736.76 1518.28 L742.7 1518.62 L748.63 1518.94 L754.57 1519.25 L760.5 1519.53 L766.43 1519.8 L772.37 1520.05 L778.3 1520.28 L784.24 1520.5 L790.17 1520.7 L796.1 1520.88 L802.04 1521.05 L807.97 1521.2 L813.91 1521.33 L819.84 1521.45 L825.77 1521.55 L831.71 1521.64 L837.64 1521.71 L843.58 1521.77 L849.51 1521.82 L855.44 1521.85 L861.38 1521.86 L867.31 1521.87 L873.25 1521.86 L879.18 1521.83 L885.11 1521.79 L891.05 1521.75 L896.98 1521.68 L902.92 1521.61 L908.85 1521.52 L914.78 1521.42 L920.72 1521.32 L926.65 1521.2 L932.58 1521.06 L938.52 1520.92 L944.45 1520.77 L950.39 1520.61 L956.32 1520.43 L962.25 1520.25 L968.19 1520.06 L974.12 1519.86 L980.06 1519.65 L985.99 1519.43 L991.92 1519.2 L997.86 1518.96 L1003.79 1518.72 L1009.73 1518.47 L1015.66 1518.21 L1021.59 1517.94 L1027.53 1517.66 L1033.46 1517.38 L1039.4 1517.1 L1045.33 1516.8 L1051.26 1516.5 L1057.2 1516.2 L1063.13 1515.89 L1069.07 1515.57 L1075 1515.25 L1080.93 1514.92 L1086.87 1514.59 L1092.8 1514.25 L1098.74 1513.91 L1104.67 1513.57 L1110.6 1513.22 L1116.54 1512.87 L1122.47 1512.52 L1128.41 1512.16 L1134.34 1511.8 L1140.27 1511.44 L1146.21 1511.07 L1152.14 1510.71 L1158.08 1510.34 L1164.01 1509.97 L1169.94 1509.6 L1175.88 1509.23 L1181.81 1508.86 L1187.75 1508.48 L1193.68 1508.11 L1199.61 1507.74 L1205.55 1507.36 L1211.48 1506.99 L1217.42 1506.62 L1223.35 1506.25 L1229.28 1505.88 L1235.22 1505.51 L1241.15 1505.14 L1247.08 1504.78 L1253.02 1504.42 L1258.95 1504.06 L1264.89 1503.7 L1270.82 1503.35 L1276.75 1502.99 L1282.69 1502.65 L1288.62 1502.3 L1294.56 1501.96 L1300.49 1501.63 L1306.42 1501.3 L1312.36 1500.97 L1318.29 1500.65 L1324.23 1500.33 L1330.16 1500.02 L1336.09 1499.71 L1342.03 1499.41 L1347.96 1499.12 L1353.9 1498.83 L1359.83 1498.55 L1365.76 1498.27 L1371.7 1498.01 L1377.63 1497.75 L1383.57 1497.49 L1389.5 1497.25"/>
<path d="M446 1477.51 L451.93 1479.98 L457.87 1482.38 L463.8 1484.7 L469.74 1486.93 L475.67 1489.09 L481.6 1491.18 L487.54 1493.19 L493.47 1495.13 L499.41 1497 L505.34 1498.81 L511.27 1500.55 L517.21 1502.23 L523.14 1503.85 L529.08 1505.41 L535.01 1506.92 L540.94 1508.37 L546.88 1509.77 L552.81 1511.12 L558.75 1512.42 L564.68 1513.68 L570.61 1514.9 L576.55 1516.07 L582.48 1517.2 L588.42 1518.3 L594.35 1519.35 L600.28 1520.37 L606.22 1521.35 L612.15 1522.3 L618.08 1523.21 L624.02 1524.08 L629.95 1524.92 L635.89 1525.73 L641.82 1526.51 L647.75 1527.25 L653.69 1527.97 L659.62 1528.65 L665.56 1529.31 L671.49 1529.94 L677.42 1530.54 L683.36 1531.11 L689.29 1531.66 L695.23 1532.19 L701.16 1532.69 L707.09 1533.16 L713.03 1533.62 L718.96 1534.05 L724.9 1534.46 L730.83 1534.85 L736.76 1535.22 L742.7 1535.58 L748.63 1535.91 L754.57 1536.23 L760.5 1536.54 L766.43 1536.82 L772.37 1537.1 L778.3 1537.35 L784.24 1537.6 L790.17 1537.84 L796.1 1538.06 L802.04 1538.27 L807.97 1538.47 L813.91 1538.67 L819.84 1538.85 L825.77 1539.03 L831.71 1539.2 L837.64 1539.37 L843.58 1539.53 L849.51 1539.68 L855.44 1539.82 L861.38 1539.96 L867.31 1540.09 L873.25 1540.22 L879.18 1540.34 L885.11 1540.45 L891.05 1540.56 L896.98 1540.66 L902.92 1540.75 L908.85 1540.84 L914.78 1540.92 L920.72 1540.99 L926.65 1541.06 L932.58 1541.12 L938.52 1541.17 L944.45 1541.22 L950.39 1541.26 L956.32 1541.3 L962.25 1541.33 L968.19 1541.35 L974.12 1541.37 L980.06 1541.38 L985.99 1541.38 L991.92 1541.38 L997.86 1541.37 L1003.79 1541.36 L1009.73 1541.34 L1015.66 1541.31 L1021.59 1541.28 L1027.53 1541.24 L1033.46 1541.19 L1039.4 1541.14 L1045.33 1541.08 L1051.26 1541.02 L1057.2 1540.95 L1063.13 1540.88 L1069.07 1540.79 L1075 1540.71 L1080.93 1540.61 L1086.87 1540.51 L1092.8 1540.41 L1098.74 1540.29 L1104.67 1540.18 L1110.6 1540.05 L1116.54 1539.92 L1122.47 1539.79 L1128.41 1539.65 L1134.34 1539.5 L1140.27 1539.35 L1146.21 1539.19 L1152.14 1539.02 L1158.08 1538.85 L1164.01 1538.67 L1169.94 1538.49 L1175.88 1538.3 L1181.81 1538.11 L1187.75 1537.91 L1193.68 1537.7 L1199.61 1537.49 L1205.55 1537.28 L1211.48 1537.05 L1217.42 1536.83 L1223.35 1536.59 L1229.28 1536.35 L1235.22 1536.11 L1241.15 1535.86 L1247.08 1535.6 L1253.02 1535.34 L1258.95 1535.07 L1264.89 1534.8 L1270.82 1534.52 L1276.75 1534.23 L1282.69 1533.94 L1288.62 1533.65 L1294.56 1533.35 L1300.49 1533.04 L1306.42 1532.73 L1312.36 1532.41 L1318.29 1532.09 L1324.23 1531.76 L1330.16 1531.42 L1336.09 1531.09 L1342.03 1530.74 L1347.96 1530.39 L1353.9 1530.04 L1359.83 1529.68 L1365.76 1529.31 L1371.7 1528.94 L1377.63 1528.56 L1383.57 1528.18 L1389.5 1527.79"/>
<path d="M446 1491.01 L451.93 1493.25 L457.87 1495.45 L463.8 1497.61 L469.74 1499.72 L475.67 1501.79 L481.6 1503.81 L487.54 1505.79 L493.47 1507.73 L499.41 1509.63 L505.34 1511.49 L511.27 1513.3 L517.21 1515.08 L523.14 1516.81 L529.08 1518.51 L535.01 1520.17 L540.94 1521.79 L546.88 1523.37 L552.81 1524.92 L558.75 1526.42 L564.68 1527.9 L570.61 1529.33 L576.55 1530.73 L582.48 1532.1 L588.42 1533.43 L594.35 1534.73 L600.28 1535.99 L606.22 1537.23 L612.15 1538.43 L618.08 1539.59 L624.02 1540.73 L629.95 1541.84 L635.89 1542.91 L641.82 1543.96 L647.75 1544.98 L653.69 1545.96 L659.62 1546.92 L665.56 1547.86 L671.49 1548.76 L677.42 1549.64 L683.36 1550.49 L689.29 1551.32 L695.23 1552.12 L701.16 1552.89 L707.09 1553.65 L713.03 1554.37 L718.96 1555.08 L724.9 1555.76 L730.83 1556.42 L736.76 1557.06 L742.7 1557.67 L748.63 1558.27 L754.57 1558.84 L760.5 1559.4 L766.43 1559.94 L772.37 1560.45 L778.3 1560.95 L784.24 1561.43 L790.17 1561.9 L796.1 1562.35 L802.04 1562.78 L807.97 1563.19 L813.91 1563.59 L819.84 1563.98 L825.77 1564.35 L831.71 1564.7 L837.64 1565.05 L843.58 1565.37 L849.51 1565.69 L855.44 1565.99 L861.38 1566.28 L867.31 1566.56 L873.25 1566.82 L879.18 1567.08 L885.11 1567.32 L891.05 1567.54 L896.98 1567.76 L902.92 1567.96 L908.85 1568.15 L914.78 1568.33 L920.72 1568.5 L926.65 1568.66 L932.58 1568.8 L938.52 1568.94 L944.45 1569.06 L950.39 1569.18 L956.32 1569.28 L962.25 1569.38 L968.19 1569.46 L974.12 1569.53 L980.06 1569.6 L985.99 1569.65 L991.92 1569.7 L997.86 1569.73 L1003.79 1569.76 L1009.73 1569.78 L1015.66 1569.79 L1021.59 1569.79 L1027.53 1569.78 L1033.46 1569.76 L1039.4 1569.74 L1045.33 1569.71 L1051.26 1569.67 L1057.2 1569.62 L1063.13 1569.57 L1069.07 1569.51 L1075 1569.44 L1080.93 1569.36 L1086.87 1569.28 L1092.8 1569.19 L1098.74 1569.1 L1104.67 1569 L1110.6 1568.89 L1116.54 1568.78 L1122.47 1568.66 L1128.41 1568.54 L1134.34 1568.41 L1140.27 1568.27 L1146.21 1568.13 L1152.14 1567.99 L1158.08 1567.84 L1164.01 1567.68 L1169.94 1567.53 L1175.88 1567.36 L1181.81 1567.2 L1187.75 1567.03 L1193.68 1566.85 L1199.61 1566.68 L1205.55 1566.5 L1211.48 1566.31 L1217.42 1566.13 L1223.35 1565.94 L1229.28 1565.74 L1235.22 1565.55 L1241.15 1565.35 L1247.08 1565.15 L1253.02 1564.95 L1258.95 1564.75 L1264.89 1564.54 L1270.82 1564.34 L1276.75 1564.13 L1282.69 1563.92 L1288.62 1563.71 L1294.56 1563.5 L1300.49 1563.29 L1306.42 1563.08 L1312.36 1562.86 L1318.29 1562.65 L1324.23 1562.44 L1330.16 1562.23 L1336.09 1562.02 L1342.03 1561.8 L1347.96 1561.59 L1353.9 1561.38 L1359.83 1561.17 L1365.76 1560.97 L1371.7 1560.76 L1377.63 1560.56 L1383.57 1560.35 L1389.5 1560.15"/>
<path d="M294.5 1414 L301.39 1418.51 L308.27 1422.94 L315.16 1427.3 L322.05 1431.59 L328.93 1435.8 L335.82 1439.95 L342.71 1444.02 L349.59 1448.02 L356.48 1451.96 L363.37 1455.83 L370.25 1459.62 L377.14 1463.36 L384.03 1467.02 L390.92 1470.62 L397.8 1474.15 L404.69 1477.62 L411.58 1481.02 L418.46 1484.36 L425.35 1487.64 L432.24 1490.85 L439.12 1494 L446.01 1497.09 L452.9 1500.12 L459.78 1503.09 L466.67 1506 L473.56 1508.85 L480.44 1511.65 L487.33 1514.38 L494.22 1517.06 L501.1 1519.68 L507.99 1522.24 L514.88 1524.75 L521.76 1527.21 L528.65 1529.61 L535.54 1531.95 L542.42 1534.25 L549.31 1536.49 L556.2 1538.68 L563.08 1540.81 L569.97 1542.9 L576.86 1544.94 L583.75 1546.93 L590.63 1548.87 L597.52 1550.76 L604.41 1552.6 L611.29 1554.39 L618.18 1556.14 L625.07 1557.85 L631.95 1559.5 L638.84 1561.12 L645.73 1562.69 L652.61 1564.21 L659.5 1565.7 L666.39 1567.14 L673.27 1568.54 L680.16 1569.89 L687.05 1571.21 L693.93 1572.49 L700.82 1573.73 L707.71 1574.92 L714.59 1576.09 L721.48 1577.21 L728.37 1578.3 L735.25 1579.35 L742.14 1580.36 L749.03 1581.34 L755.92 1582.28 L762.8 1583.19 L769.69 1584.07 L776.58 1584.92 L783.46 1585.73 L790.35 1586.51 L797.24 1587.26 L804.12 1587.98 L811.01 1588.67 L817.9 1589.33 L824.78 1589.96 L831.67 1590.56 L838.56 1591.14 L845.44 1591.69 L852.33 1592.21 L859.22 1592.71 L866.1 1593.18 L872.99 1593.63 L879.88 1594.06 L886.76 1594.46 L893.65 1594.84 L900.54 1595.19 L907.42 1595.53 L914.31 1595.84 L921.2 1596.14 L928.08 1596.41 L934.97 1596.67 L941.86 1596.9 L948.75 1597.12 L955.63 1597.32 L962.52 1597.51 L969.41 1597.68 L976.29 1597.83 L983.18 1597.97 L990.07 1598.09 L996.95 1598.2 L1003.84 1598.3 L1010.73 1598.39 L1017.61 1598.46 L1024.5 1598.52 L1031.39 1598.57 L1038.27 1598.61 L1045.16 1598.64 L1052.05 1598.67 L1058.93 1598.68 L1065.82 1598.69 L1072.71 1598.69 L1079.59 1598.68 L1086.48 1598.67 L1093.37 1598.65 L1100.25 1598.62 L1107.14 1598.6 L1114.03 1598.57 L1120.92 1598.53 L1127.8 1598.5 L1134.69 1598.46 L1141.58 1598.42 L1148.46 1598.38 L1155.35 1598.34 L1162.24 1598.3 L1169.12 1598.26 L1176.01 1598.23 L1182.9 1598.19 L1189.78 1598.16 L1196.67 1598.13 L1203.56 1598.11 L1210.44 1598.09 L1217.33 1598.08 L1224.22 1598.07 L1231.1 1598.07 L1237.99 1598.08 L1244.88 1598.1 L1251.76 1598.12 L1258.65 1598.15 L1265.54 1598.19 L1272.42 1598.24 L1279.31 1598.31 L1286.2 1598.38 L1293.08 1598.47 L1299.97 1598.57 L1306.86 1598.68 L1313.75 1598.8 L1320.63 1598.94 L1327.52 1599.1 L1334.41 1599.27 L1341.29 1599.45 L1348.18 1599.66 L1355.07 1599.88 L1361.95 1600.11 L1368.84 1600.37 L1375.73 1600.65 L1382.61 1600.94 L1389.5 1601.26"/>
<path d="M446 1512.01 L451.93 1514.91 L457.87 1517.77 L463.8 1520.58 L469.74 1523.36 L475.67 1526.1 L481.6 1528.8 L487.54 1531.46 L493.47 1534.08 L499.41 1536.67 L505.34 1539.21 L511.27 1541.72 L517.21 1544.19 L523.14 1546.62 L529.08 1549.02 L535.01 1551.38 L540.94 1553.7 L546.88 1555.99 L552.81 1558.24 L558.75 1560.46 L564.68 1562.64 L570.61 1564.79 L576.55 1566.91 L582.48 1568.99 L588.42 1571.03 L594.35 1573.05 L600.28 1575.03 L606.22 1576.98 L612.15 1578.9 L618.08 1580.78 L624.02 1582.64 L629.95 1584.46 L635.89 1586.25 L641.82 1588.02 L647.75 1589.75 L653.69 1591.45 L659.62 1593.13 L665.56 1594.77 L671.49 1596.39 L677.42 1597.97 L683.36 1599.53 L689.29 1601.06 L695.23 1602.57 L701.16 1604.05 L707.09 1605.5 L713.03 1606.92 L718.96 1608.32 L724.9 1609.69 L730.83 1611.04 L736.76 1612.37 L742.7 1613.66 L748.63 1614.94 L754.57 1616.19 L760.5 1617.42 L766.43 1618.62 L772.37 1619.8 L778.3 1620.96 L784.24 1622.09 L790.17 1623.21 L796.1 1624.3 L802.04 1625.37 L807.97 1626.42 L813.91 1627.45 L819.84 1628.46 L825.77 1629.45 L831.71 1630.42 L837.64 1631.37 L843.58 1632.3 L849.51 1633.22 L855.44 1634.11 L861.38 1634.99 L867.31 1635.84 L873.25 1636.69 L879.18 1637.51 L885.11 1638.31 L891.05 1639.1 L896.98 1639.88 L902.92 1640.63 L908.85 1641.37 L914.78 1642.1 L920.72 1642.8 L926.65 1643.5 L932.58 1644.18 L938.52 1644.84 L944.45 1645.49 L950.39 1646.12 L956.32 1646.74 L962.25 1647.35 L968.19 1647.94 L974.12 1648.52 L980.06 1649.09 L985.99 1649.64 L991.92 1650.18 L997.86 1650.71 L1003.79 1651.23 L1009.73 1651.74 L1015.66 1652.23 L1021.59 1652.71 L1027.53 1653.19 L1033.46 1653.65 L1039.4 1654.1 L1045.33 1654.54 L1051.26 1654.97 L1057.2 1655.39 L1063.13 1655.81 L1069.07 1656.21 L1075 1656.6 L1080.93 1656.99 L1086.87 1657.37 L1092.8 1657.74 L1098.74 1658.1 L1104.67 1658.45 L1110.6 1658.8 L1116.54 1659.14 L1122.47 1659.48 L1128.41 1659.8 L1134.34 1660.12 L1140.27 1660.44 L1146.21 1660.75 L1152.14 1661.05 L1158.08 1661.35 L1164.01 1661.65 L1169.94 1661.94 L1175.88 1662.22 L1181.81 1662.5 L1187.75 1662.78 L1193.68 1663.05 L1199.61 1663.32 L1205.55 1663.59 L1211.48 1663.86 L1217.42 1664.12 L1223.35 1664.38 L1229.28 1664.64 L1235.22 1664.89 L1241.15 1665.15 L1247.08 1665.4 L1253.02 1665.65 L1258.95 1665.91 L1264.89 1666.16 L1270.82 1666.41 L1276.75 1666.66 L1282.69 1666.91 L1288.62 1667.17 L1294.56 1667.42 L1300.49 1667.67 L1306.42 1667.93 L1312.36 1668.19 L1318.29 1668.45 L1324.23 1668.71 L1330.16 1668.98 L1336.09 1669.24 L1342.03 1669.51 L1347.96 1669.79 L1353.9 1670.06 L1359.83 1670.34 L1365.76 1670.63 L1371.7 1670.92 L1377.63 1671.21 L1383.57 1671.51 L1389.5 1671.82"/>
<path d="M446 1524.3 L451.93 1527.74 L457.87 1531.12 L463.8 1534.47 L469.74 1537.77 L475.67 1541.02 L481.6 1544.23 L487.54 1547.4 L493.47 1550.52 L499.41 1553.6 L505.34 1556.64 L511.27 1559.64 L517.21 1562.6 L523.14 1565.51 L529.08 1568.39 L535.01 1571.22 L540.94 1574.01 L546.88 1576.76 L552.81 1579.48 L558.75 1582.15 L564.68 1584.79 L570.61 1587.38 L576.55 1589.94 L582.48 1592.46 L588.42 1594.95 L594.35 1597.39 L600.28 1599.8 L606.22 1602.18 L612.15 1604.51 L618.08 1606.81 L624.02 1609.08 L629.95 1611.31 L635.89 1613.5 L641.82 1615.67 L647.75 1617.79 L653.69 1619.89 L659.62 1621.95 L665.56 1623.97 L671.49 1625.97 L677.42 1627.93 L683.36 1629.86 L689.29 1631.76 L695.23 1633.62 L701.16 1635.46 L707.09 1637.27 L713.03 1639.04 L718.96 1640.79 L724.9 1642.5 L730.83 1644.19 L736.76 1645.84 L742.7 1647.47 L748.63 1649.07 L754.57 1650.64 L760.5 1652.19 L766.43 1653.71 L772.37 1655.2 L778.3 1656.66 L784.24 1658.1 L790.17 1659.51 L796.1 1660.9 L802.04 1662.26 L807.97 1663.6 L813.91 1664.91 L819.84 1666.2 L825.77 1667.46 L831.71 1668.7 L837.64 1669.92 L843.58 1671.11 L849.51 1672.29 L855.44 1673.44 L861.38 1674.57 L867.31 1675.67 L873.25 1676.76 L879.18 1677.82 L885.11 1678.87 L891.05 1679.9 L896.98 1680.9 L902.92 1681.89 L908.85 1682.85 L914.78 1683.8 L920.72 1684.73 L926.65 1685.64 L932.58 1686.54 L938.52 1687.42 L944.45 1688.28 L950.39 1689.12 L956.32 1689.95 L962.25 1690.76 L968.19 1691.55 L974.12 1692.34 L980.06 1693.1 L985.99 1693.85 L991.92 1694.59 L997.86 1695.31 L1003.79 1696.02 L1009.73 1696.72 L1015.66 1697.4 L1021.59 1698.07 L1027.53 1698.73 L1033.46 1699.38 L1039.4 1700.02 L1045.33 1700.64 L1051.26 1701.25 L1057.2 1701.86 L1063.13 1702.45 L1069.07 1703.03 L1075 1703.61 L1080.93 1704.17 L1086.87 1704.73 L1092.8 1705.28 L1098.74 1705.82 L1104.67 1706.35 L1110.6 1706.88 L1116.54 1707.39 L1122.47 1707.91 L1128.41 1708.41 L1134.34 1708.91 L1140.27 1709.4 L1146.21 1709.89 L1152.14 1710.37 L1158.08 1710.85 L1164.01 1711.33 L1169.94 1711.8 L1175.88 1712.26 L1181.81 1712.73 L1187.75 1713.19 L1193.68 1713.65 L1199.61 1714.1 L1205.55 1714.56 L1211.48 1715.01 L1217.42 1715.46 L1223.35 1715.91 L1229.28 1716.36 L1235.22 1716.81 L1241.15 1717.26 L1247.08 1717.71 L1253.02 1718.16 L1258.95 1718.62 L1264.89 1719.07 L1270.82 1719.53 L1276.75 1719.98 L1282.69 1720.45 L1288.62 1720.91 L1294.56 1721.38 L1300.49 1721.85 L1306.42 1722.32 L1312.36 1722.8 L1318.29 1723.28 L1324.23 1723.77 L1330.16 1724.27 L1336.09 1724.77 L1342.03 1725.27 L1347.96 1725.78 L1353.9 1726.3 L1359.83 1726.83 L1365.76 1727.36 L1371.7 1727.9 L1377.63 1728.45 L1383.57 1729.01 L1389.5 1729.58"/>
<path d="M446 1535.4 L451.93 1539.23 L457.87 1543.02 L463.8 1546.75 L469.74 1550.44 L475.67 1554.09 L481.6 1557.69 L487.54 1561.24 L493.47 1564.75 L499.41 1568.21 L505.34 1571.63 L511.27 1575 L517.21 1578.33 L523.14 1581.62 L529.08 1584.87 L535.01 1588.07 L540.94 1591.23 L546.88 1594.35 L552.81 1597.43 L558.75 1600.46 L564.68 1603.46 L570.61 1606.42 L576.55 1609.33 L582.48 1612.21 L588.42 1615.05 L594.35 1617.85 L600.28 1620.61 L606.22 1623.33 L612.15 1626.02 L618.08 1628.67 L624.02 1631.28 L629.95 1633.86 L635.89 1636.4 L641.82 1638.9 L647.75 1641.37 L653.69 1643.81 L659.62 1646.21 L665.56 1648.58 L671.49 1650.91 L677.42 1653.21 L683.36 1655.48 L689.29 1657.72 L695.23 1659.92 L701.16 1662.09 L707.09 1664.23 L713.03 1666.34 L718.96 1668.42 L724.9 1670.47 L730.83 1672.49 L736.76 1674.48 L742.7 1676.44 L748.63 1678.38 L754.57 1680.28 L760.5 1682.16 L766.43 1684.01 L772.37 1685.83 L778.3 1687.63 L784.24 1689.4 L790.17 1691.14 L796.1 1692.86 L802.04 1694.55 L807.97 1696.22 L813.91 1697.86 L819.84 1699.48 L825.77 1701.07 L831.71 1702.64 L837.64 1704.18 L843.58 1705.7 L849.51 1707.2 L855.44 1708.67 L861.38 1710.12 L867.31 1711.55 L873.25 1712.95 L879.18 1714.34 L885.11 1715.7 L891.05 1717.04 L896.98 1718.35 L902.92 1719.65 L908.85 1720.92 L914.78 1722.18 L920.72 1723.41 L926.65 1724.63 L932.58 1725.82 L938.52 1726.99 L944.45 1728.15 L950.39 1729.29 L956.32 1730.4 L962.25 1731.5 L968.19 1732.58 L974.12 1733.64 L980.06 1734.69 L985.99 1735.71 L991.92 1736.72 L997.86 1737.72 L1003.79 1738.69 L1009.73 1739.65 L1015.66 1740.59 L1021.59 1741.52 L1027.53 1742.43 L1033.46 1743.33 L1039.4 1744.21 L1045.33 1745.08 L1051.26 1745.93 L1057.2 1746.77 L1063.13 1747.59 L1069.07 1748.4 L1075 1749.19 L1080.93 1749.98 L1086.87 1750.74 L1092.8 1751.5 L1098.74 1752.25 L1104.67 1752.98 L1110.6 1753.7 L1116.54 1754.4 L1122.47 1755.1 L1128.41 1755.79 L1134.34 1756.46 L1140.27 1757.12 L1146.21 1757.78 L1152.14 1758.42 L1158.08 1759.05 L1164.01 1759.68 L1169.94 1760.29 L1175.88 1760.9 L1181.81 1761.49 L1187.75 1762.08 L1193.68 1762.66 L1199.61 1763.23 L1205.55 1763.8 L1211.48 1764.35 L1217.42 1764.9 L1223.35 1765.45 L1229.28 1765.98 L1235.22 1766.51 L1241.15 1767.03 L1247.08 1767.55 L1253.02 1768.06 L1258.95 1768.57 L1264.89 1769.07 L1270.82 1769.56 L1276.75 1770.05 L1282.69 1770.54 L1288.62 1771.02 L1294.56 1771.5 L1300.49 1771.98 L1306.42 1772.45 L1312.36 1772.92 L1318.29 1773.38 L1324.23 1773.85 L1330.16 1774.31 L1336.09 1774.77 L1342.03 1775.23 L1347.96 1775.68 L1353.9 1776.14 L1359.83 1776.59 L1365.76 1777.05 L1371.7 1777.5 L1377.63 1777.95 L1383.57 1778.41 L1389.5 1778.86"/>
<path d="M446 1538 L451.93 1542.41 L457.87 1546.77 L463.8 1551.08 L469.74 1555.34 L475.67 1559.54 L481.6 1563.69 L487.54 1567.79 L493.47 1571.83 L499.41 1575.83 L505.34 1579.77 L511.27 1583.67 L517.21 1587.52 L523.14 1591.31 L529.08 1595.06 L535.01 1598.76 L540.94 1602.41 L546.88 1606.01 L552.81 1609.57 L558.75 1613.08 L564.68 1616.54 L570.61 1619.96 L576.55 1623.33 L582.48 1626.65 L588.42 1629.93 L594.35 1633.16 L600.28 1636.35 L606.22 1639.5 L612.15 1642.6 L618.08 1645.66 L624.02 1648.68 L629.95 1651.66 L635.89 1654.59 L641.82 1657.48 L647.75 1660.33 L653.69 1663.14 L659.62 1665.91 L665.56 1668.64 L671.49 1671.32 L677.42 1673.97 L683.36 1676.58 L689.29 1679.16 L695.23 1681.69 L701.16 1684.19 L707.09 1686.65 L713.03 1689.07 L718.96 1691.45 L724.9 1693.8 L730.83 1696.11 L736.76 1698.39 L742.7 1700.63 L748.63 1702.84 L754.57 1705.02 L760.5 1707.16 L766.43 1709.26 L772.37 1711.34 L778.3 1713.38 L784.24 1715.38 L790.17 1717.36 L796.1 1719.31 L802.04 1721.22 L807.97 1723.1 L813.91 1724.95 L819.84 1726.77 L825.77 1728.57 L831.71 1730.33 L837.64 1732.06 L843.58 1733.77 L849.51 1735.45 L855.44 1737.1 L861.38 1738.72 L867.31 1740.31 L873.25 1741.88 L879.18 1743.42 L885.11 1744.94 L891.05 1746.43 L896.98 1747.9 L902.92 1749.34 L908.85 1750.75 L914.78 1752.14 L920.72 1753.51 L926.65 1754.86 L932.58 1756.18 L938.52 1757.48 L944.45 1758.76 L950.39 1760.02 L956.32 1761.25 L962.25 1762.46 L968.19 1763.66 L974.12 1764.83 L980.06 1765.98 L985.99 1767.12 L991.92 1768.23 L997.86 1769.33 L1003.79 1770.41 L1009.73 1771.47 L1015.66 1772.51 L1021.59 1773.54 L1027.53 1774.54 L1033.46 1775.54 L1039.4 1776.51 L1045.33 1777.47 L1051.26 1778.42 L1057.2 1779.35 L1063.13 1780.27 L1069.07 1781.17 L1075 1782.06 L1080.93 1782.93 L1086.87 1783.79 L1092.8 1784.64 L1098.74 1785.48 L1104.67 1786.3 L1110.6 1787.11 L1116.54 1787.91 L1122.47 1788.7 L1128.41 1789.48 L1134.34 1790.25 L1140.27 1791.01 L1146.21 1791.76 L1152.14 1792.5 L1158.08 1793.24 L1164.01 1793.96 L1169.94 1794.68 L1175.88 1795.38 L1181.81 1796.08 L1187.75 1796.78 L1193.68 1797.46 L1199.61 1798.15 L1205.55 1798.82 L1211.48 1799.49 L1217.42 1800.15 L1223.35 1800.81 L1229.28 1801.47 L1235.22 1802.12 L1241.15 1802.76 L1247.08 1803.41 L1253.02 1804.04 L1258.95 1804.68 L1264.89 1805.32 L1270.82 1805.95 L1276.75 1806.58 L1282.69 1807.21 L1288.62 1807.84 L1294.56 1808.47 L1300.49 1809.1 L1306.42 1809.72 L1312.36 1810.35 L1318.29 1810.98 L1324.23 1811.61 L1330.16 1812.24 L1336.09 1812.88 L1342.03 1813.52 L1347.96 1814.15 L1353.9 1814.8 L1359.83 1815.44 L1365.76 1816.09 L1371.7 1816.74 L1377.63 1817.4 L1383.57 1818.06 L1389.5 1818.73"/>
<path d="M294.5 1414 L301.39 1421.97 L308.27 1429.68 L315.16 1437.14 L322.05 1444.36 L328.93 1451.35 L335.82 1458.13 L342.71 1464.71 L349.59 1471.08 L356.48 1477.27 L363.37 1483.29 L370.25 1489.14 L377.14 1494.84 L384.03 1500.39 L390.92 1505.81 L397.8 1511.11 L404.69 1516.29 L411.58 1521.37 L418.46 1526.35 L425.35 1531.26 L432.24 1536.09 L439.12 1540.87 L446.01 1545.59 L452.9 1550.27 L459.78 1554.92 L466.67 1559.55 L473.56 1564.17 L480.44 1568.79 L487.33 1573.43 L494.22 1578.08 L501.1 1582.74 L507.99 1587.41 L514.88 1592.08 L521.76 1596.75 L528.65 1601.42 L535.54 1606.07 L542.42 1610.71 L549.31 1615.33 L556.2 1619.92 L563.08 1624.49 L569.97 1629.03 L576.86 1633.52 L583.75 1637.98 L590.63 1642.38 L597.52 1646.74 L604.41 1651.04 L611.29 1655.28 L618.18 1659.46 L625.07 1663.56 L631.95 1667.6 L638.84 1671.55 L645.73 1675.42 L652.61 1679.21 L659.5 1682.92 L666.39 1686.55 L673.27 1690.1 L680.16 1693.58 L687.05 1696.98 L693.93 1700.3 L700.82 1703.56 L707.71 1706.74 L714.59 1709.85 L721.48 1712.89 L728.37 1715.87 L735.25 1718.78 L742.14 1721.63 L749.03 1724.41 L755.92 1727.14 L762.8 1729.8 L769.69 1732.4 L776.58 1734.95 L783.46 1737.44 L790.35 1739.88 L797.24 1742.27 L804.12 1744.6 L811.01 1746.89 L817.9 1749.12 L824.78 1751.31 L831.67 1753.45 L838.56 1755.55 L845.44 1757.6 L852.33 1759.62 L859.22 1761.59 L866.1 1763.53 L872.99 1765.42 L879.88 1767.29 L886.76 1769.11 L893.65 1770.91 L900.54 1772.67 L907.42 1774.4 L914.31 1776.1 L921.2 1777.78 L928.08 1779.43 L934.97 1781.06 L941.86 1782.66 L948.75 1784.24 L955.63 1785.8 L962.52 1787.34 L969.41 1788.86 L976.29 1790.37 L983.18 1791.86 L990.07 1793.34 L996.95 1794.81 L1003.84 1796.26 L1010.73 1797.7 L1017.61 1799.13 L1024.5 1800.55 L1031.39 1801.96 L1038.27 1803.35 L1045.16 1804.73 L1052.05 1806.09 L1058.93 1807.44 L1065.82 1808.78 L1072.71 1810.11 L1079.59 1811.42 L1086.48 1812.72 L1093.37 1814 L1100.25 1815.27 L1107.14 1816.52 L1114.03 1817.76 L1120.92 1818.98 L1127.8 1820.19 L1134.69 1821.38 L1141.58 1822.56 L1148.46 1823.72 L1155.35 1824.87 L1162.24 1826 L1169.12 1827.11 L1176.01 1828.21 L1182.9 1829.29 L1189.78 1830.35 L1196.67 1831.4 L1203.56 1832.43 L1210.44 1833.44 L1217.33 1834.44 L1224.22 1835.41 L1231.1 1836.37 L1237.99 1837.31 L1244.88 1838.24 L1251.76 1839.14 L1258.65 1840.03 L1265.54 1840.9 L1272.42 1841.75 L1279.31 1842.58 L1286.2 1843.39 L1293.08 1844.18 L1299.97 1844.95 L1306.86 1845.7 L1313.75 1846.43 L1320.63 1847.14 L1327.52 1847.84 L1334.41 1848.51 L1341.29 1849.16 L1348.18 1849.79 L1355.07 1850.39 L1361.95 1850.98 L1368.84 1851.55 L1375.73 1852.09 L1382.61 1852.61 L1389.5 1853.12"/>
<path d="M446 1541 L451.93 1546.91 L457.87 1552.75 L463.8 1558.53 L469.74 1564.25 L475.67 1569.91 L481.6 1575.5 L487.54 1581.02 L493.47 1586.48 L499.41 1591.88 L505.34 1597.21 L511.27 1602.48 L517.21 1607.68 L523.14 1612.82 L529.08 1617.89 L535.01 1622.9 L540.94 1627.84 L546.88 1632.72 L552.81 1637.53 L558.75 1642.27 L564.68 1646.95 L570.61 1651.56 L576.55 1656.11 L582.48 1660.59 L588.42 1665 L594.35 1669.35 L600.28 1673.64 L606.22 1677.85 L612.15 1682.01 L618.08 1686.1 L624.02 1690.12 L629.95 1694.08 L635.89 1697.97 L641.82 1701.8 L647.75 1705.57 L653.69 1709.27 L659.62 1712.92 L665.56 1716.49 L671.49 1720.01 L677.42 1723.46 L683.36 1726.85 L689.29 1730.17 L695.23 1733.43 L701.16 1736.64 L707.09 1739.78 L713.03 1742.87 L718.96 1745.89 L724.9 1748.86 L730.83 1751.77 L736.76 1754.63 L742.7 1757.44 L748.63 1760.19 L754.57 1762.89 L760.5 1765.53 L766.43 1768.13 L772.37 1770.68 L778.3 1773.18 L784.24 1775.63 L790.17 1778.03 L796.1 1780.39 L802.04 1782.71 L807.97 1784.98 L813.91 1787.21 L819.84 1789.4 L825.77 1791.54 L831.71 1793.65 L837.64 1795.72 L843.58 1797.75 L849.51 1799.74 L855.44 1801.7 L861.38 1803.62 L867.31 1805.51 L873.25 1807.37 L879.18 1809.19 L885.11 1810.98 L891.05 1812.75 L896.98 1814.48 L902.92 1816.19 L908.85 1817.86 L914.78 1819.51 L920.72 1821.14 L926.65 1822.74 L932.58 1824.32 L938.52 1825.88 L944.45 1827.41 L950.39 1828.92 L956.32 1830.42 L962.25 1831.89 L968.19 1833.35 L974.12 1834.79 L980.06 1836.22 L985.99 1837.63 L991.92 1839.03 L997.86 1840.41 L1003.79 1841.78 L1009.73 1843.14 L1015.66 1844.48 L1021.59 1845.82 L1027.53 1847.13 L1033.46 1848.44 L1039.4 1849.73 L1045.33 1851.01 L1051.26 1852.28 L1057.2 1853.54 L1063.13 1854.78 L1069.07 1856.01 L1075 1857.22 L1080.93 1858.42 L1086.87 1859.62 L1092.8 1860.79 L1098.74 1861.96 L1104.67 1863.11 L1110.6 1864.25 L1116.54 1865.38 L1122.47 1866.49 L1128.41 1867.6 L1134.34 1868.69 L1140.27 1869.76 L1146.21 1870.83 L1152.14 1871.88 L1158.08 1872.92 L1164.01 1873.95 L1169.94 1874.96 L1175.88 1875.96 L1181.81 1876.95 L1187.75 1877.93 L1193.68 1878.9 L1199.61 1879.85 L1205.55 1880.79 L1211.48 1881.72 L1217.42 1882.64 L1223.35 1883.54 L1229.28 1884.44 L1235.22 1885.32 L1241.15 1886.19 L1247.08 1887.04 L1253.02 1887.89 L1258.95 1888.72 L1264.89 1889.54 L1270.82 1890.35 L1276.75 1891.14 L1282.69 1891.93 L1288.62 1892.7 L1294.56 1893.46 L1300.49 1894.21 L1306.42 1894.95 L1312.36 1895.67 L1318.29 1896.38 L1324.23 1897.09 L1330.16 1897.78 L1336.09 1898.45 L1342.03 1899.12 L1347.96 1899.78 L1353.9 1900.42 L1359.83 1901.05 L1365.76 1901.67 L1371.7 1902.28 L1377.63 1902.88 L1383.57 1903.46 L1389.5 1904.03"/>
<path d="M444.8 1567.4 L450.74 1572.74 L456.68 1578.03 L462.62 1583.28 L468.57 1588.48 L474.51 1593.63 L480.45 1598.74 L486.39 1603.81 L492.33 1608.82 L498.27 1613.79 L504.22 1618.72 L510.16 1623.6 L516.1 1628.43 L522.04 1633.22 L527.98 1637.96 L533.92 1642.65 L539.86 1647.3 L545.81 1651.9 L551.75 1656.45 L557.69 1660.96 L563.63 1665.42 L569.57 1669.84 L575.51 1674.21 L581.45 1678.53 L587.4 1682.81 L593.34 1687.04 L599.28 1691.22 L605.22 1695.35 L611.16 1699.44 L617.1 1703.49 L623.05 1707.48 L628.99 1711.43 L634.93 1715.34 L640.87 1719.19 L646.81 1723 L652.75 1726.76 L658.69 1730.48 L664.64 1734.15 L670.58 1737.77 L676.52 1741.34 L682.46 1744.87 L688.4 1748.35 L694.34 1751.79 L700.28 1755.17 L706.23 1758.51 L712.17 1761.81 L718.11 1765.05 L724.05 1768.25 L729.99 1771.41 L735.93 1774.52 L741.88 1777.58 L747.82 1780.59 L753.76 1783.56 L759.7 1786.48 L765.64 1789.36 L771.58 1792.19 L777.52 1794.97 L783.47 1797.71 L789.41 1800.4 L795.35 1803.04 L801.29 1805.65 L807.23 1808.2 L813.17 1810.71 L819.12 1813.17 L825.06 1815.59 L831 1817.97 L836.94 1820.29 L842.88 1822.58 L848.82 1824.81 L854.76 1827.01 L860.71 1829.15 L866.65 1831.26 L872.59 1833.32 L878.53 1835.33 L884.47 1837.31 L890.41 1839.25 L896.35 1841.15 L902.3 1843.02 L908.24 1844.85 L914.18 1846.64 L920.12 1848.41 L926.06 1850.14 L932 1851.85 L937.95 1853.53 L943.89 1855.18 L949.83 1856.81 L955.77 1858.41 L961.71 1860 L967.65 1861.56 L973.59 1863.1 L979.54 1864.63 L985.48 1866.14 L991.42 1867.64 L997.36 1869.12 L1003.3 1870.59 L1009.24 1872.05 L1015.18 1873.49 L1021.13 1874.92 L1027.07 1876.34 L1033.01 1877.74 L1038.95 1879.13 L1044.89 1880.5 L1050.83 1881.87 L1056.78 1883.21 L1062.72 1884.55 L1068.66 1885.87 L1074.6 1887.17 L1080.54 1888.47 L1086.48 1889.74 L1092.42 1891.01 L1098.37 1892.26 L1104.31 1893.5 L1110.25 1894.72 L1116.19 1895.92 L1122.13 1897.12 L1128.07 1898.3 L1134.02 1899.46 L1139.96 1900.61 L1145.9 1901.75 L1151.84 1902.87 L1157.78 1903.97 L1163.72 1905.07 L1169.66 1906.14 L1175.61 1907.2 L1181.55 1908.25 L1187.49 1909.28 L1193.43 1910.3 L1199.37 1911.3 L1205.31 1912.29 L1211.25 1913.26 L1217.2 1914.22 L1223.14 1915.16 L1229.08 1916.09 L1235.02 1917 L1240.96 1917.9 L1246.9 1918.78 L1252.85 1919.65 L1258.79 1920.5 L1264.73 1921.33 L1270.67 1922.15 L1276.61 1922.95 L1282.55 1923.74 L1288.49 1924.51 L1294.44 1925.27 L1300.38 1926.01 L1306.32 1926.74 L1312.26 1927.44 L1318.2 1928.14 L1324.14 1928.81 L1330.08 1929.47 L1336.03 1930.12 L1341.97 1930.75 L1347.91 1931.36 L1353.85 1931.96 L1359.79 1932.54 L1365.73 1933.1 L1371.68 1933.65 L1377.62 1934.18 L1383.56 1934.69 L1389.5 1935.19"/>
<path d="M294.5 1414 L301.39 1423.17 L308.27 1432.14 L315.16 1440.91 L322.05 1449.48 L328.93 1457.87 L335.82 1466.09 L342.71 1474.13 L349.59 1482.01 L356.48 1489.74 L363.37 1497.33 L370.25 1504.77 L377.14 1512.08 L384.03 1519.27 L390.92 1526.34 L397.8 1533.3 L404.69 1540.16 L411.58 1546.93 L418.46 1553.61 L425.35 1560.21 L432.24 1566.74 L439.12 1573.21 L446.01 1579.62 L452.9 1585.98 L459.78 1592.3 L466.67 1598.59 L473.56 1604.85 L480.44 1611.08 L487.33 1617.3 L494.22 1623.48 L501.1 1629.62 L507.99 1635.73 L514.88 1641.79 L521.76 1647.79 L528.65 1653.74 L535.54 1659.62 L542.42 1665.44 L549.31 1671.19 L556.2 1676.85 L563.08 1682.43 L569.97 1687.93 L576.86 1693.33 L583.75 1698.64 L590.63 1703.87 L597.52 1709.02 L604.41 1714.1 L611.29 1719.11 L618.18 1724.05 L625.07 1728.94 L631.95 1733.78 L638.84 1738.57 L645.73 1743.32 L652.61 1748.02 L659.5 1752.68 L666.39 1757.29 L673.27 1761.85 L680.16 1766.36 L687.05 1770.8 L693.93 1775.19 L700.82 1779.52 L707.71 1783.78 L714.59 1787.97 L721.48 1792.09 L728.37 1796.13 L735.25 1800.1 L742.14 1803.99 L749.03 1807.8 L755.92 1811.52 L762.8 1815.15 L769.69 1818.69 L776.58 1822.14 L783.46 1825.51 L790.35 1828.79 L797.24 1831.99 L804.12 1835.12 L811.01 1838.16 L817.9 1841.14 L824.78 1844.04 L831.67 1846.87 L838.56 1849.64 L845.44 1852.35 L852.33 1854.99 L859.22 1857.58 L866.1 1860.11 L872.99 1862.58 L879.88 1865.01 L886.76 1867.39 L893.65 1869.72 L900.54 1872.01 L907.42 1874.26 L914.31 1876.47 L921.2 1878.64 L928.08 1880.79 L934.97 1882.9 L941.86 1884.98 L948.75 1887.04 L955.63 1889.07 L962.52 1891.09 L969.41 1893.08 L976.29 1895.06 L983.18 1897.03 L990.07 1898.99 L996.95 1900.94 L1003.84 1902.88 L1010.73 1904.81 L1017.61 1906.74 L1024.5 1908.65 L1031.39 1910.56 L1038.27 1912.45 L1045.16 1914.33 L1052.05 1916.2 L1058.93 1918.06 L1065.82 1919.91 L1072.71 1921.74 L1079.59 1923.56 L1086.48 1925.36 L1093.37 1927.15 L1100.25 1928.92 L1107.14 1930.68 L1114.03 1932.42 L1120.92 1934.15 L1127.8 1935.85 L1134.69 1937.54 L1141.58 1939.21 L1148.46 1940.86 L1155.35 1942.5 L1162.24 1944.11 L1169.12 1945.7 L1176.01 1947.27 L1182.9 1948.82 L1189.78 1950.34 L1196.67 1951.85 L1203.56 1953.33 L1210.44 1954.78 L1217.33 1956.22 L1224.22 1957.62 L1231.1 1959.01 L1237.99 1960.36 L1244.88 1961.69 L1251.76 1963 L1258.65 1964.27 L1265.54 1965.52 L1272.42 1966.74 L1279.31 1967.93 L1286.2 1969.09 L1293.08 1970.22 L1299.97 1971.32 L1306.86 1972.39 L1313.75 1973.43 L1320.63 1974.44 L1327.52 1975.41 L1334.41 1976.35 L1341.29 1977.26 L1348.18 1978.13 L1355.07 1978.97 L1361.95 1979.77 L1368.84 1980.54 L1375.73 1981.27 L1382.61 1981.96 L1389.5 1982.62"/>
</g>
<rect x="992" y="1394" width="51" height="527" fill="#f6f6f6"/>
<text transform="translate(1039.6 1425.1) scale(1.03 1)" font-family='"Liberation Sans", sans-serif' font-size="23.0" text-anchor="end" fill="#151515" stroke="#151515" stroke-width="1.1"  >0,10</text>
<text transform="translate(1039.6 1448.85) scale(1.03 1)" font-family='"Liberation Sans", sans-serif' font-size="23.0" text-anchor="end" fill="#151515" stroke="#151515" stroke-width="1.1"  >0,20</text>
<text transform="translate(1039.6 1475.6) scale(1.03 1)" font-family='"Liberation Sans", sans-serif' font-size="23.0" text-anchor="end" fill="#151515" stroke="#151515" stroke-width="1.1"  >0,25</text>
<text transform="translate(1039.6 1502.85) scale(1.03 1)" font-family='"Liberation Sans", sans-serif' font-size="23.0" text-anchor="end" fill="#151515" stroke="#151515" stroke-width="1.1"  >0,30</text>
<text transform="translate(1039.6 1525.6) scale(1.03 1)" font-family='"Liberation Sans", sans-serif' font-size="23.0" text-anchor="end" fill="#151515" stroke="#151515" stroke-width="1.1"  >0,35</text>
<text transform="translate(1039.6 1548.1) scale(1.03 1)" font-family='"Liberation Sans", sans-serif' font-size="23.0" text-anchor="end" fill="#151515" stroke="#151515" stroke-width="1.1"  >0,40</text>
<text transform="translate(1039.6 1575.6) scale(1.03 1)" font-family='"Liberation Sans", sans-serif' font-size="23.0" text-anchor="end" fill="#151515" stroke="#151515" stroke-width="1.1"  >0,45</text>
<text transform="translate(1039.6 1604.6) scale(1.03 1)" font-family='"Liberation Sans", sans-serif' font-size="23.0" text-anchor="end" fill="#151515" stroke="#151515" stroke-width="1.1"  >0,50</text>
<text transform="translate(1039.6 1659.1) scale(1.03 1)" font-family='"Liberation Sans", sans-serif' font-size="23.0" text-anchor="end" fill="#151515" stroke="#151515" stroke-width="1.1"  >0,60</text>
<text transform="translate(1039.6 1706.35) scale(1.03 1)" font-family='"Liberation Sans", sans-serif' font-size="23.0" text-anchor="end" fill="#151515" stroke="#151515" stroke-width="1.1"  >0,70</text>
<text transform="translate(1039.6 1747.1) scale(1.03 1)" font-family='"Liberation Sans", sans-serif' font-size="23.0" text-anchor="end" fill="#151515" stroke="#151515" stroke-width="1.1"  >0,80</text>
<text transform="translate(1039.6 1779.6) scale(1.03 1)" font-family='"Liberation Sans", sans-serif' font-size="23.0" text-anchor="end" fill="#151515" stroke="#151515" stroke-width="1.1"  >0,90</text>
<text transform="translate(1039.6 1806.35) scale(1.03 1)" font-family='"Liberation Sans", sans-serif' font-size="23.0" text-anchor="end" fill="#151515" stroke="#151515" stroke-width="1.1"  >1,00</text>
<text transform="translate(1039.6 1851.35) scale(1.03 1)" font-family='"Liberation Sans", sans-serif' font-size="23.0" text-anchor="end" fill="#151515" stroke="#151515" stroke-width="1.1"  >1,25</text>
<text transform="translate(1039.6 1882.6) scale(1.03 1)" font-family='"Liberation Sans", sans-serif' font-size="23.0" text-anchor="end" fill="#151515" stroke="#151515" stroke-width="1.1"  >1,50</text>
<text transform="translate(1039.6 1912.6) scale(1.03 1)" font-family='"Liberation Sans", sans-serif' font-size="23.0" text-anchor="end" fill="#151515" stroke="#151515" stroke-width="1.1"  >2,00</text>
<rect x="296" y="1394" width="108" height="18.5" fill="#f6f6f6"/>
<text transform="translate(304.3 1412.4) scale(1.03 1)" font-family='"Liberation Sans", sans-serif' font-size="23.0" text-anchor="start" fill="#151515" stroke="#151515" stroke-width="1.0"  >0,908920</text>
<rect x="920" y="1924.2" width="42" height="30.2" fill="#f6f6f6"/>
<text x="926.3" y="1946.6" font-family='"Liberation Sans", sans-serif' font-size="22.5" text-anchor="start" fill="#151515" stroke="#151515" stroke-width="0.8" font-style="italic" letter-spacing="2.6" >l/l</text>
<text x="947.3" y="1954" font-family='"Liberation Sans", sans-serif' font-size="19.5" text-anchor="start" fill="#151515" stroke="#151515" stroke-width="0.8"  >0</text>
<text transform="translate(295.6 2013.7) scale(1.03 1)" font-family='"Liberation Sans", sans-serif' font-size="23.0" text-anchor="middle" fill="#151515" stroke="#151515" stroke-width="1.1"  >1,0</text>
<text transform="translate(571.6 2013.7) scale(1.03 1)" font-family='"Liberation Sans", sans-serif' font-size="23.0" text-anchor="middle" fill="#151515" stroke="#151515" stroke-width="1.1"  >1,5</text>
<text transform="translate(762.1 2013.7) scale(1.03 1)" font-family='"Liberation Sans", sans-serif' font-size="23.0" text-anchor="middle" fill="#151515" stroke="#151515" stroke-width="1.1"  >2,0</text>
<text transform="translate(916 2013.7) scale(1.03 1)" font-family='"Liberation Sans", sans-serif' font-size="23.0" text-anchor="middle" fill="#151515" stroke="#151515" stroke-width="1.1"  >2,5</text>
<text transform="translate(1045.4 2013.7) scale(1.03 1)" font-family='"Liberation Sans", sans-serif' font-size="23.0" text-anchor="middle" fill="#151515" stroke="#151515" stroke-width="1.1"  >3,0</text>
<text transform="translate(1139.75 2013.7) scale(1.03 1)" font-family='"Liberation Sans", sans-serif' font-size="23.0" text-anchor="middle" fill="#151515" stroke="#151515" stroke-width="1.1"  >3,5</text>
<text transform="translate(1231.5 2013.7) scale(1.03 1)" font-family='"Liberation Sans", sans-serif' font-size="23.0" text-anchor="middle" fill="#151515" stroke="#151515" stroke-width="1.1"  >4,0</text>
<text transform="translate(1312.8 2013.7) scale(1.03 1)" font-family='"Liberation Sans", sans-serif' font-size="23.0" text-anchor="middle" fill="#151515" stroke="#151515" stroke-width="1.1"  >4,5</text>
<text transform="translate(1373.3 2013.7) scale(1.03 1)" font-family='"Liberation Sans", sans-serif' font-size="23.0" text-anchor="start" fill="#151515" stroke="#151515" stroke-width="1.1"  >5,0</text>
<text x="1416.5" y="2013.5" font-family='"Liberation Sans", sans-serif' font-size="23.0" text-anchor="start" fill="#151515" stroke="#151515" stroke-width="1.1" font-style="italic" >S</text>
<text x="1432.3" y="2021.3" font-family='"Liberation Sans", sans-serif' font-size="18.5" text-anchor="start" fill="#151515" stroke="#151515" stroke-width="0.9"  >1</text>
<text x="1442.3" y="2013.5" font-family='"Liberation Sans", sans-serif' font-size="23.0" text-anchor="start" fill="#151515" stroke="#151515" stroke-width="1.1" font-style="italic" >/</text>
<text x="1450" y="2013.5" font-family='"Liberation Sans", sans-serif' font-size="23.0" text-anchor="start" fill="#151515" stroke="#151515" stroke-width="1.1" font-style="italic" >S</text>
<text x="1465.3" y="2021.3" font-family='"Liberation Sans", sans-serif' font-size="18.5" text-anchor="start" fill="#151515" stroke="#151515" stroke-width="0.9"  >0</text>
<text transform="translate(288.8 1442.2) scale(1.03 1)" font-family='"Liberation Sans", sans-serif' font-size="23.0" text-anchor="end" fill="#151515" stroke="#151515" stroke-width="1.1"  >0,9</text>
<text transform="translate(288.8 1643.6) scale(1.03 1)" font-family='"Liberation Sans", sans-serif' font-size="23.0" text-anchor="end" fill="#151515" stroke="#151515" stroke-width="1.1"  >0,8</text>
<text transform="translate(288.8 1796) scale(1.03 1)" font-family='"Liberation Sans", sans-serif' font-size="23.0" text-anchor="end" fill="#151515" stroke="#151515" stroke-width="1.1"  >0,7</text>
<text transform="translate(288.8 1911.5) scale(1.03 1)" font-family='"Liberation Sans", sans-serif' font-size="23.0" text-anchor="end" fill="#151515" stroke="#151515" stroke-width="1.1"  >0,6</text>
<text transform="translate(288.8 1992.2) scale(1.03 1)" font-family='"Liberation Sans", sans-serif' font-size="23.0" text-anchor="end" fill="#151515" stroke="#151515" stroke-width="1.1"  >0,5</text>
<text x="262.3" y="1408.6" font-family='"Liberation Serif", serif' font-size="27.5" text-anchor="start" fill="#151515" stroke="#151515" stroke-width="0.7"  >β</text>
<text transform="translate(276.8 1415.2) scale(1.03 1)" font-family='"Liberation Sans", sans-serif' font-size="19.7" text-anchor="start" fill="#151515" stroke="#151515" stroke-width="0.9" font-style="italic" >T</text>
<text x="800.5" y="1178" font-family='"Liberation Serif", serif' font-size="26.5" text-anchor="start" fill="#151515" stroke="#151515" stroke-width="0.7"  >β</text>
<text transform="translate(819.8 1179.5) scale(1.05 1)" font-family='"Liberation Sans", sans-serif' font-size="24" text-anchor="start" fill="#151515" stroke="#151515" stroke-width="0.7"  >=</text>
<path d="M842 1172H871.3" stroke="#151515" stroke-width="2.1"/>
<text transform="translate(845.5 1160.5) scale(1.03 1)" font-family='"Liberation Sans", sans-serif' font-size="21.8" text-anchor="start" fill="#151515" stroke="#151515" stroke-width="0.9" font-style="italic" >S</text>
<text x="859.3" y="1170" font-family='"Liberation Sans", sans-serif' font-size="16.5" text-anchor="start" fill="#151515" stroke="#151515" stroke-width="0.7"  >1</text>
<text transform="translate(844 1198.8) scale(1.03 1)" font-family='"Liberation Sans", sans-serif' font-size="21.8" text-anchor="start" fill="#151515" stroke="#151515" stroke-width="0.9" font-style="italic" >S</text>
<text x="858" y="1207.5" font-family='"Liberation Sans", sans-serif' font-size="16.8" text-anchor="start" fill="#151515" stroke="#151515" stroke-width="0.7"  >0</text>
<text x="874" y="1178.5" font-family='"Liberation Sans", sans-serif' font-size="23" text-anchor="start" fill="#151515" stroke="#151515" stroke-width="0.7"  >;</text>
<text x="769.3" y="1276.3" font-family='"Liberation Sans", sans-serif' font-size="27" text-anchor="start" fill="#151515" stroke="#151515" stroke-width="0.5" font-style="italic" font-weight="bold" >x</text>
<text transform="translate(790 1277) scale(1.05 1)" font-family='"Liberation Sans", sans-serif' font-size="24" text-anchor="start" fill="#151515" stroke="#151515" stroke-width="0.7"  >=</text>
<path d="M811.3 1268.2H890" stroke="#151515" stroke-width="2.1"/>
<text x="846.5" y="1259.5" font-family='"Liberation Sans", sans-serif' font-size="21.8" text-anchor="start" fill="#151515" stroke="#151515" stroke-width="0.9" font-style="italic" >l</text>
<path d="M814 1295.5L817.5 1293.5L823 1307.5L827.5 1273H887.5" stroke="#151515" stroke-width="2.0" fill="none" stroke-linejoin="miter"/>
<text transform="translate(830.5 1297) scale(1.03 1)" font-family='"Liberation Sans", sans-serif' font-size="20.8" text-anchor="start" fill="#151515" stroke="#151515" stroke-width="0.85" font-style="italic" >D</text>
<text x="850.5" y="1296" font-family='"Liberation Sans", sans-serif' font-size="20" text-anchor="start" fill="#151515" stroke="#151515" stroke-width="0.9"  >·</text>
<text transform="translate(860 1297) scale(1.03 1)" font-family='"Liberation Sans", sans-serif' font-size="20.8" text-anchor="start" fill="#151515" stroke="#151515" stroke-width="0.85" font-style="italic" >S</text>
<text x="873.5" y="1306" font-family='"Liberation Sans", sans-serif' font-size="16.8" text-anchor="start" fill="#151515" stroke="#151515" stroke-width="0.7"  >0</text>
<text x="892.3" y="1276.3" font-family='"Liberation Sans", sans-serif' font-size="23" text-anchor="start" fill="#151515" stroke="#151515" stroke-width="0.8"  >.</text>
</svg>
<div class="t" id="hdr" style="left:196.6px;top:152.51px;font-size:27.1px;transform:scaleX(1.021);font-weight:bold;color:#161616;">ГОСТ 34233.4—2017</div>
<div class="t" id="cap1a" style="left:600.2px;top:948.68px;font-size:23.3px;transform:scaleX(1.072);">Рисунок К.1 — Коэффициенты <span class="b b2">β</span><sub class="s2">T</sub>, <span class="b b2">β</span><sub class="s2">U</sub>, <span class="b b2">β</span><sub class="s2">Y</sub> и <span class="b b2">β</span><sub class="s2">Z</sub>,</div>
<div class="t" id="cap1b" style="left:548.0px;top:978.18px;font-size:23.3px;transform:scaleX(1.072);">зависящие от соотношения размеров тарелки фланца</div>
<div class="t" id="p1" style="left:267.5px;top:1038.83px;font-size:23.3px;transform:scaleX(1.072);width:1182.56px;text-align:justify;text-align-last:justify;word-spacing:-2px;">Коэффициенты <span class="b">β</span><sub>F</sub>, <span class="b">β</span><sub>V</sub>, и <i>f</i>, зависящие от соотношения размеров втулки фланца, для фланцевых соединений</div>
<div class="t" id="p2" style="left:196.5px;top:1069.43px;font-size:23.3px;transform:scaleX(1.072);width:1248.79px;text-align:justify;text-align-last:justify;word-spacing:-2px;">с приварными встык фланцами с конической втулкой определяют по графикам, приведенным на рисунках К.2—К.4,</div>
<div class="t" id="p3" style="left:196.0px;top:1099.43px;font-size:23.3px;transform:scaleX(1.072);">в зависимости от отношений:</div>
<div class="t" id="e1" style="left:1484.0px;top:1183.83px;font-size:23.3px;transform:scaleX(1.072);">(К.9)</div>
<div class="t" id="e2" style="left:1470.0px;top:1284.68px;font-size:23.3px;transform:scaleX(1.072);">(К.10)</div>
<div class="t" id="cap2" style="left:680.0px;top:2056.93px;font-size:23.3px;transform:scaleX(1.072);">Рисунок К.2 — Коэффициент <span class="b b2">β</span><sub class="s2">F</sub></div>
<div class="t" id="pg" style="left:196.0px;top:2109.34px;font-size:25px;transform:scaleX(1.0);">36</div>
</body></html>
